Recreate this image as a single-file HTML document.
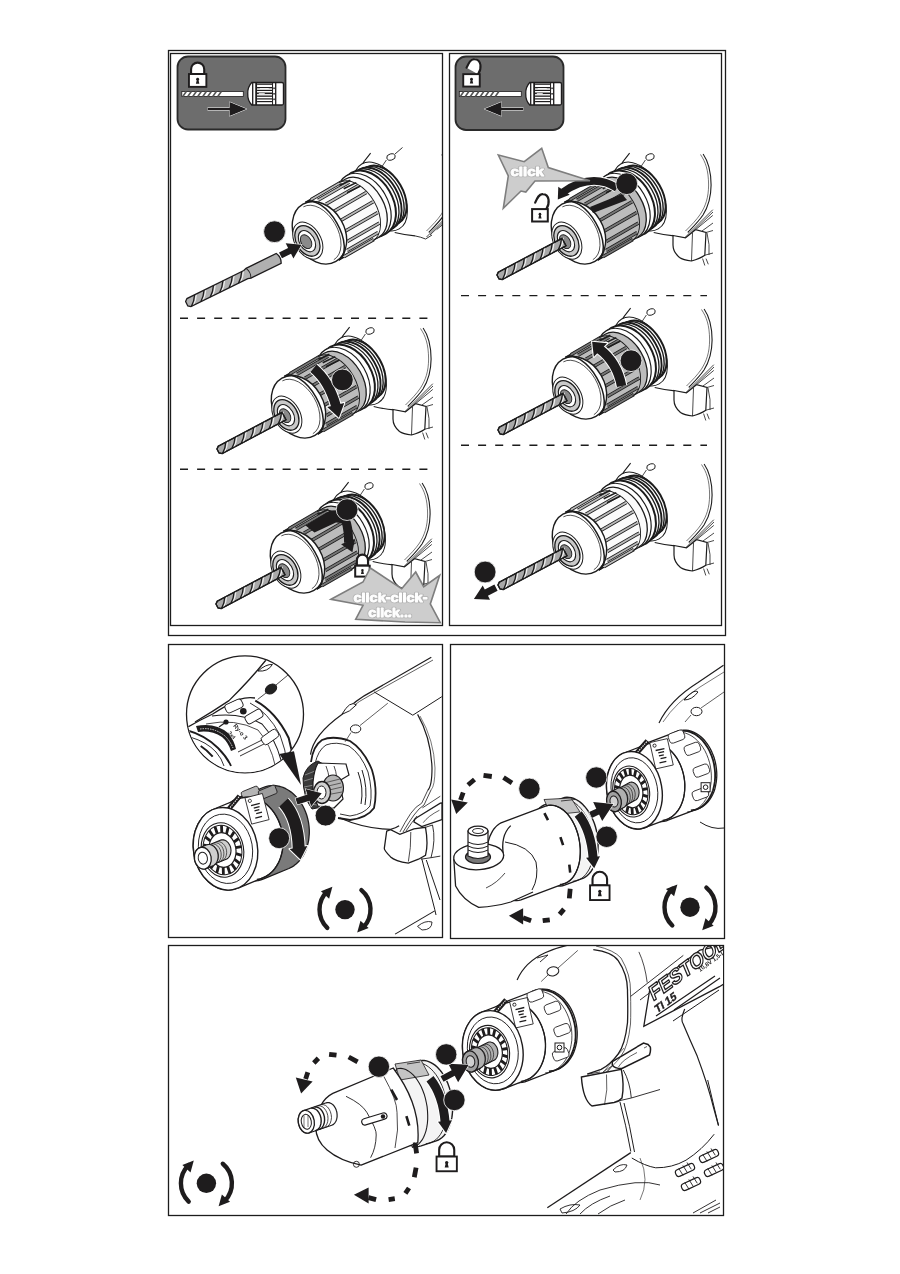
<!DOCTYPE html>
<html><head><meta charset="utf-8"><title>Manual page</title>
<style>
html,body{margin:0;padding:0;background:#fff;}
body{width:900px;height:1274px;overflow:hidden;font-family:"Liberation Sans",sans-serif;}
svg{position:absolute;left:0;top:0;display:block;}
text{opacity:.99}
svg{-webkit-font-smoothing:antialiased;will-change:transform;}
</style></head>
<body>
<svg width="900" height="1274" viewBox="0 0 900 1274">
<defs>
  <clipPath id="cTL1"><rect x="171" y="130" width="271" height="186"/></clipPath>
  <clipPath id="cTL2"><rect x="171" y="319" width="271" height="148"/></clipPath>
  <clipPath id="cTL3"><rect x="171" y="470" width="271" height="155"/></clipPath>
  <clipPath id="cTR1"><rect x="450" y="130" width="271" height="163"/></clipPath>
  <clipPath id="cTR2"><rect x="450" y="296" width="271" height="147"/></clipPath>
  <clipPath id="cTR3"><rect x="450" y="446" width="271" height="179"/></clipPath>
  <clipPath id="cML"><rect x="169" y="645" width="273" height="292"/></clipPath>
  <clipPath id="cMR"><rect x="451" y="645" width="273" height="293"/></clipPath>
  <clipPath id="cBT"><rect x="169" y="946" width="554" height="269"/></clipPath>
  <clipPath id="cMag"><circle cx="245" cy="714.3" r="58"/></clipPath>
  <g id="drillBody"><path d="M-20.4 -3.9 Q-27 4 -32.1 12.2" fill="none" stroke="#1c1c1c" stroke-width="1.1"/>
<ellipse cx="0" cy="0" rx="4.3" ry="3.1" transform="rotate(-15)" fill="none" stroke="#1c1c1c" stroke-width="0.9"/>
<path d="M-4.6 3 L-9 9.5" fill="none" stroke="#1c1c1c" stroke-width="0.8"/>
<path d="M53.1 -3 C58 4, 61 12, 61.1 28 C61 42, 58 50, 53 58 C49 64, 43 70, 37.8 75.5" fill="none" stroke="#1c1c1c" stroke-width="1.1"/>
<path d="M50.5 -2.5 C55.5 5, 58.5 13, 58.6 28 C58.5 41, 55.5 49, 50.5 57 C46.5 63, 41 68.5, 35.5 74" fill="none" stroke="#1c1c1c" stroke-width="0.6"/>
<path d="M3.7 75.5 Q14 78 24 78.9" fill="none" stroke="#1c1c1c" stroke-width="1.1"/>
<path d="M35.5 80 L62.8 52.7 M39 78 L63 55 M45.7 72.6 L62.8 58.4 M52 74 L63 66" fill="none" stroke="#1c1c1c" stroke-width="0.8"/>
</g><g id="blockG">
<path d="M23 78.5 L35.5 80.8 L45.7 72.6 L56 75.5 L54.8 98.2 Q50 101.5 41.5 104 Q33 103 29.5 100.5 Q23 95 23 88 Z" fill="#fff" stroke="#1c1c1c" stroke-width="1.2"/>
<path d="M42.5 76 L41.5 104" fill="none" stroke="#1c1c1c" stroke-width="0.8"/>
<path d="M56 75.5 L63 73.5 M57 76 Q60 88 59 98 M54.8 98.2 L63 96" fill="none" stroke="#1c1c1c" stroke-width="0.8"/>
<path d="M52.6 101.6 L54.8 108.5 M56 101.6 L58.3 107.3" fill="none" stroke="#1c1c1c" stroke-width="0.8"/></g>
<g id="chuckA"><g transform="translate(-77.6,79.3) rotate(-30)"><ellipse cx="78" cy="-1" rx="22.4" ry="37.5" fill="#fff" stroke="#1c1c1c" stroke-width="1"/>
<ellipse cx="81" cy="-1" rx="20" ry="32" fill="#fff" stroke="#1c1c1c" stroke-width="2.0"/>
<ellipse cx="77" cy="-1" rx="21" ry="33" fill="#fff" stroke="#1c1c1c" stroke-width="1.4"/>
<ellipse cx="73" cy="-1" rx="22" ry="33.8" fill="#fff" stroke="#1c1c1c" stroke-width="1.9"/>
<ellipse cx="69" cy="-1" rx="23" ry="34.4" fill="#fff" stroke="#1c1c1c" stroke-width="1.3"/>
<ellipse cx="64.5" cy="-1" rx="24" ry="35" fill="#fff" stroke="#1c1c1c" stroke-width="2.0"/>
<ellipse cx="59" cy="-1" rx="24" ry="35" fill="#fff" stroke="#1c1c1c" stroke-width="1.2"/>
<path d="M10 -33.5H56A22 33.5 0 0 1 56 33.5H10A18 33.5 0 0 0 10 -33.5Z" fill="#fbfbfb" stroke="#1c1c1c" stroke-width="1.3"/>
<path d="M16.1 -33H50.8M22 -29H58M26.8 -21.5H63.9M29.9 -11.5H67.7M31 0H69M29.9 11.5H67.7M26.8 21.5H63.9M22 29H58M16.1 33H50.8" stroke="#bbb" stroke-width="2"/>
<path d="M16.1 -34.3H50.8M16.1 -31.7H50.8M22 -30.3H58M22 -27.7H58M26.8 -22.8H63.9M26.8 -20.2H63.9M29.9 -12.8H67.7M29.9 -10.2H67.7M31 -1.3H69M31 1.3H69M29.9 10.2H67.7M29.9 12.8H67.7M26.8 20.2H63.9M26.8 22.8H63.9M22 27.7H58M22 30.3H58M16.1 31.7H50.8M16.1 34.3H50.8" stroke="#1c1c1c" stroke-width="0.9"/>
<path d="M49 -33.6A21 33.6 0 0 1 49 33.6" fill="none" stroke="#1c1c1c" stroke-width="0.9"/>
<path d="M48 -31 L60 -30 M50 -26 L64 -25 M51 -21 L66 -20" stroke="#1c1c1c" stroke-width="1.6"/>
<ellipse cx="7" cy="0" rx="25" ry="33" fill="#fff" stroke="#1c1c1c" stroke-width="1.4"/>
<path d="M10 -33.3A17 33.3 0 0 1 10 33.3" fill="none" stroke="#1c1c1c" stroke-width="1.5"/>
<path d="M6 -30.5A19 30.5 0 0 1 6 30.5" fill="none" stroke="#1c1c1c" stroke-width="0.7"/>
<ellipse cx="-7" cy="1" rx="13" ry="20" fill="#fff" stroke="#1c1c1c" stroke-width="1"/>
<ellipse cx="-7.5" cy="1" rx="11" ry="16.5" fill="#c9c9c9" stroke="#1c1c1c" stroke-width="1.3"/>
<ellipse cx="-8" cy="1" rx="7.5" ry="11.5" fill="#fff" stroke="#1c1c1c" stroke-width="1.1"/>
<ellipse cx="-9" cy="1" rx="5" ry="7.5" fill="#8a8a8a" stroke="#1c1c1c" stroke-width="0.9"/></g></g>
<g id="chuckS"><g transform="translate(-77.6,79.3) rotate(-30)"><ellipse cx="78" cy="-1" rx="22.4" ry="37.5" fill="#fff" stroke="#1c1c1c" stroke-width="1"/>
<ellipse cx="81" cy="-1" rx="20" ry="32" fill="#fff" stroke="#1c1c1c" stroke-width="2.0"/>
<ellipse cx="77" cy="-1" rx="21" ry="33" fill="#fff" stroke="#1c1c1c" stroke-width="1.4"/>
<ellipse cx="73" cy="-1" rx="22" ry="33.8" fill="#fff" stroke="#1c1c1c" stroke-width="1.9"/>
<ellipse cx="69" cy="-1" rx="23" ry="34.4" fill="#fff" stroke="#1c1c1c" stroke-width="1.3"/>
<ellipse cx="64.5" cy="-1" rx="24" ry="35" fill="#fff" stroke="#1c1c1c" stroke-width="2.0"/>
<ellipse cx="59" cy="-1" rx="24" ry="35" fill="#fff" stroke="#1c1c1c" stroke-width="1.2"/>
<path d="M10 -33.5H56A22 33.5 0 0 1 56 33.5H10A18 33.5 0 0 0 10 -33.5Z" fill="#bcbcbc" stroke="#1c1c1c" stroke-width="1.3"/>
<path d="M16.1 -33H50.8M22 -29H58M26.8 -21.5H63.9M29.9 -11.5H67.7M31 0H69M29.9 11.5H67.7M26.8 21.5H63.9M22 29H58M16.1 33H50.8" stroke="#777" stroke-width="2"/>
<path d="M16.1 -34.3H50.8M16.1 -31.7H50.8M22 -30.3H58M22 -27.7H58M26.8 -22.8H63.9M26.8 -20.2H63.9M29.9 -12.8H67.7M29.9 -10.2H67.7M31 -1.3H69M31 1.3H69M29.9 10.2H67.7M29.9 12.8H67.7M26.8 20.2H63.9M26.8 22.8H63.9M22 27.7H58M22 30.3H58M16.1 31.7H50.8M16.1 34.3H50.8" stroke="#1c1c1c" stroke-width="0.9"/>
<path d="M49 -33.6A21 33.6 0 0 1 49 33.6" fill="none" stroke="#1c1c1c" stroke-width="0.9"/>
<path d="M48 -31 L60 -30 M50 -26 L64 -25 M51 -21 L66 -20" stroke="#1c1c1c" stroke-width="1.6"/>
<ellipse cx="7" cy="0" rx="25" ry="33" fill="#fff" stroke="#1c1c1c" stroke-width="1.4"/>
<path d="M10 -33.3A17 33.3 0 0 1 10 33.3" fill="none" stroke="#1c1c1c" stroke-width="1.5"/>
<path d="M6 -30.5A19 30.5 0 0 1 6 30.5" fill="none" stroke="#1c1c1c" stroke-width="0.7"/>
<ellipse cx="-7" cy="1" rx="13" ry="20" fill="#fff" stroke="#1c1c1c" stroke-width="1"/>
<ellipse cx="-7.5" cy="1" rx="11" ry="16.5" fill="#c9c9c9" stroke="#1c1c1c" stroke-width="1.3"/>
<ellipse cx="-8" cy="1" rx="7.5" ry="11.5" fill="#fff" stroke="#1c1c1c" stroke-width="1.1"/>
<ellipse cx="-9" cy="1" rx="5" ry="7.5" fill="#8a8a8a" stroke="#1c1c1c" stroke-width="0.9"/></g></g>
<g id="bitIn"><g transform="translate(-152,120) rotate(-27.9)">
<path d="M0 -2.2 L2.5 -4.2 H74.7 V4.2 H2.5 L0 2.2 Z" fill="#a9a9a9" stroke="#1c1c1c" stroke-width="1.3"/>
<path d="M5.2 4.2Q10 0.9 13 -4.2M15.7 4.2Q20.5 0.9 23.5 -4.2M26.2 4.2Q31 0.9 34 -4.2M36.7 4.2Q41.5 0.9 44.5 -4.2M47.2 4.2Q52 0.9 55 -4.2M57.7 4.2Q62.5 0.9 65.5 -4.2M68.2 4.2Q73 0.9 76 -4.2" stroke="#eee" stroke-width="1.3" fill="none"/>
<path d="M3 4.2Q8 0.9 11 -4.2M13.5 4.2Q18.5 0.9 21.5 -4.2M24 4.2Q29 0.9 32 -4.2M34.5 4.2Q39.5 0.9 42.5 -4.2M45 4.2Q50 0.9 53 -4.2M55.5 4.2Q60.5 0.9 63.5 -4.2M66 4.2Q71 0.9 74 -4.2" stroke="#1c1c1c" stroke-width="1.3" fill="none"/>
<path d="M0 -2.2 L2.5 -4.2 H74.7 V4.2 H2.5 L0 2.2 Z" fill="none" stroke="#1c1c1c" stroke-width="1.3"/>
</g></g>
</defs>
<g fill="none" stroke="#1c1c1c" stroke-width="1.3">
  <rect x="168.5" y="50.5" width="557" height="585"/>
  <rect x="170.5" y="53.5" width="272" height="572"/>
  <rect x="449.5" y="53.5" width="272" height="572"/>
  <rect x="168.5" y="644.5" width="274" height="293"/>
  <rect x="450.5" y="644.5" width="274" height="294"/>
  <rect x="168.5" y="945.5" width="555" height="270"/>
</g>
<g stroke="#1c1c1c" stroke-width="1.4" stroke-dasharray="8 9.1">
  <line x1="180" y1="318.3" x2="430" y2="318.3"/>
  <line x1="180" y1="469.3" x2="430" y2="469.3"/>
  <line x1="461" y1="295.6" x2="707" y2="295.6"/>
  <line x1="461" y1="445.3" x2="707" y2="445.3"/>
</g>
<g clip-path="url(#cTL1)"><g transform="translate(391,157)"><use href="#drillBody"/><path d="M4 -3 L11.5 -9.5 M24 78.9 Q30 80 34.6 82 L41 78" fill="none" stroke="#1c1c1c" stroke-width="0.9"/><use href="#chuckA"/></g></g>
<g clip-path="url(#cTL2)"><g transform="translate(370,331)"><use href="#drillBody"/><use href="#blockG"/><use href="#chuckS"/><use href="#bitIn"/></g></g>
<g clip-path="url(#cTL3)"><g transform="translate(369,486)"><use href="#drillBody"/><use href="#blockG"/><use href="#chuckS"/><use href="#bitIn"/></g></g>
<g clip-path="url(#cTR1)"><g transform="translate(650,157)"><use href="#drillBody"/><use href="#blockG"/><use href="#chuckS"/><use href="#bitIn"/></g></g>
<g clip-path="url(#cTR2)"><g transform="translate(651,312)"><use href="#drillBody"/><use href="#blockG"/><use href="#chuckS"/><use href="#bitIn"/></g></g>
<g clip-path="url(#cTR3)"><g transform="translate(651,467)"><use href="#drillBody"/><use href="#blockG"/><use href="#chuckA"/><use href="#bitIn"/></g></g>
<rect x="177.5" y="56.5" width="108" height="73" rx="10.5" fill="#6d6d6d" stroke="#2a2a2a" stroke-width="1.8"/>
<rect x="455.5" y="56.5" width="108" height="73.5" rx="10.5" fill="#6d6d6d" stroke="#2a2a2a" stroke-width="1.8"/>
<path d="M191.09 74.1V69.16A6.56 6.56 0 0 1 204.21 69.16V74.1Z" fill="#fff" stroke="#1e1c1d" stroke-width="2.09"/>
<rect x="188.95" y="74.05" width="17.4" height="12.8" fill="#fff" stroke="#1e1c1d" stroke-width="1.9"/>
<circle cx="197.65" cy="79.27" r="1.45" fill="#1e1c1d"/><path d="M196.97 79.27L195.91 83.68H199.39L198.33 79.27Z" fill="#1e1c1d"/>
<rect x="181.8" y="91.5" width="61.5" height="5" fill="#fff" stroke="#1e1c1d" stroke-width="0.8"/>
<path d="M182.8 96.5L186.3 91.5M187.8 96.5L191.3 91.5M192.8 96.5L196.3 91.5M197.8 96.5L201.3 91.5M202.8 96.5L206.3 91.5M207.8 96.5L211.3 91.5M212.8 96.5L216.3 91.5M217.8 96.5L221.3 91.5" stroke="#555" stroke-width="1.6"/>
<path d="M251.75 82.5H281.95Q283.45 82.5 283.45 84V103.5Q283.45 105 281.95 105H251.75Q247.45 100.5 247.75 93.75Q247.45 87 251.75 82.5Z" fill="#fff" stroke="#1e1c1d" stroke-width="1.3"/>
<rect x="252.05" y="82.5" width="1.3" height="22.5" fill="#1e1c1d"/>
<rect x="255.25" y="82.5" width="1.8" height="22.5" fill="#1e1c1d"/>
<rect x="272.05" y="82.5" width="1" height="22.5" fill="#1e1c1d"/>
<rect x="275.05" y="82.5" width="1.3" height="22.5" fill="#1e1c1d"/>
<rect x="257.05" y="83.5" width="15" height="1.3" fill="#1e1c1d"/><rect x="257.05" y="87" width="15" height="1.3" fill="#1e1c1d"/><rect x="257.05" y="89.8" width="15" height="1.2" fill="#1e1c1d"/><rect x="257.05" y="92.5" width="15" height="1.6" fill="#1e1c1d"/><rect x="257.05" y="95.5" width="15" height="1.3" fill="#1e1c1d"/><rect x="257.05" y="98.3" width="15" height="1.2" fill="#1e1c1d"/><rect x="257.05" y="101" width="15" height="1.2" fill="#1e1c1d"/>
<path d="M258.75 93.5H264.75 M259.75 88.5H268.75" stroke="#fff" stroke-width="0.8"/>
<rect x="273.35" y="87.5" width="1.4" height="1.6" fill="#1e1c1d"/>
<rect x="273.35" y="93" width="1.4" height="1.6" fill="#1e1c1d"/>
<rect x="273.35" y="98.5" width="1.4" height="1.6" fill="#1e1c1d"/>
<path d="M207.5 108H229.5V102L246.5 109L229.5 116V110H207.5Z" fill="#1e1c1d" stroke="#fff" stroke-width="1" paint-order="stroke"/>
<path d="M478.12 74.2C481.8 68.91 481.8 59.62 474.44 59.33C470.58 58.9 468.74 62.9 466.53 67.77" fill="#fff" stroke="#1e1c1d" stroke-width="2.09" stroke-linecap="round"/>
<rect x="463.25" y="74.15" width="16.5" height="12.4" fill="#fff" stroke="#1e1c1d" stroke-width="1.9"/>
<circle cx="471.5" cy="79.21" r="1.38" fill="#1e1c1d"/><path d="M470.86 79.21L469.84 83.5H473.16L472.14 79.21Z" fill="#1e1c1d"/>
<rect x="459.3" y="91.5" width="62" height="5" fill="#fff" stroke="#1e1c1d" stroke-width="0.8"/>
<path d="M460.3 96.5L463.8 91.5M465.3 96.5L468.8 91.5M470.3 96.5L473.8 91.5M475.3 96.5L478.8 91.5M480.3 96.5L483.8 91.5M485.3 96.5L488.8 91.5M490.3 96.5L493.8 91.5M495.3 96.5L498.8 91.5" stroke="#555" stroke-width="1.6"/>
<path d="M529.75 82.5H559.95Q561.45 82.5 561.45 84V103.5Q561.45 105 559.95 105H529.75Q525.45 100.5 525.75 93.75Q525.45 87 529.75 82.5Z" fill="#fff" stroke="#1e1c1d" stroke-width="1.3"/>
<rect x="530.05" y="82.5" width="1.3" height="22.5" fill="#1e1c1d"/>
<rect x="533.25" y="82.5" width="1.8" height="22.5" fill="#1e1c1d"/>
<rect x="550.05" y="82.5" width="1" height="22.5" fill="#1e1c1d"/>
<rect x="553.05" y="82.5" width="1.3" height="22.5" fill="#1e1c1d"/>
<rect x="535.05" y="83.5" width="15" height="1.3" fill="#1e1c1d"/><rect x="535.05" y="87" width="15" height="1.3" fill="#1e1c1d"/><rect x="535.05" y="89.8" width="15" height="1.2" fill="#1e1c1d"/><rect x="535.05" y="92.5" width="15" height="1.6" fill="#1e1c1d"/><rect x="535.05" y="95.5" width="15" height="1.3" fill="#1e1c1d"/><rect x="535.05" y="98.3" width="15" height="1.2" fill="#1e1c1d"/><rect x="535.05" y="101" width="15" height="1.2" fill="#1e1c1d"/>
<path d="M536.75 93.5H542.75 M537.75 88.5H546.75" stroke="#fff" stroke-width="0.8"/>
<rect x="551.35" y="87.5" width="1.4" height="1.6" fill="#1e1c1d"/>
<rect x="551.35" y="93" width="1.4" height="1.6" fill="#1e1c1d"/>
<rect x="551.35" y="98.5" width="1.4" height="1.6" fill="#1e1c1d"/>
<path d="M523.5 108H501.5V102L484.5 109L501.5 116V110H523.5Z" fill="#1e1c1d" stroke="#fff" stroke-width="1" paint-order="stroke"/>
<g transform="translate(186.7,303.7) rotate(-26.22)">
<path d="M0 -2.5L2.5 -4.5H65.87L68.87 -5.5H102.56Q105.56 0 102.56 5.5H68.87L65.87 4.5H2.5L0 2.5Z" fill="#b0b0b0" stroke="none"/>
<path d="M5.2 4.5Q10 0.9 13 -4.5M15.7 4.5Q20.5 0.9 23.5 -4.5M26.2 4.5Q31 0.9 34 -4.5M36.7 4.5Q41.5 0.9 44.5 -4.5M47.2 4.5Q52 0.9 55 -4.5M57.7 4.5Q62.5 0.9 65.5 -4.5" fill="none" stroke="#eee" stroke-width="1.3"/>
<path d="M3 4.5Q8 0.9 11 -4.5M13.5 4.5Q18.5 0.9 21.5 -4.5M24 4.5Q29 0.9 32 -4.5M34.5 4.5Q39.5 0.9 42.5 -4.5M45 4.5Q50 0.9 53 -4.5M55.5 4.5Q60.5 0.9 63.5 -4.5" fill="none" stroke="#1e1c1d" stroke-width="1.3"/>
<path d="M0 -2.5L2.5 -4.5H65.87L68.87 -5.5H102.56Q105.56 0 102.56 5.5H68.87L65.87 4.5H2.5L0 2.5Z" fill="none" stroke="#1e1c1d" stroke-width="1.3"/>
<path d="M68.87 -5.5Q71.87 0 68.87 5.5" fill="none" stroke="#1e1c1d" stroke-width="0.9"/>
</g>
<path transform="translate(280.5,255.4) rotate(-26.89)" d="M0 -3.25H10.16V-8.5L23.66 0L10.16 8.5V3.25H0Z" fill="#1e1c1d" stroke="#fff" stroke-width="1.2" paint-order="stroke"/>
<path d="M313.5 368.3Q329 381 336.11 406.46" fill="none" stroke="#fff" stroke-width="11.8"/>
<path d="M338.9 417.7L327.26 407.11L344.24 402.89Z" fill="#fff" stroke="#fff" stroke-width="2.2" stroke-linejoin="round"/>
<path d="M313.5 368.3Q329 381 336.11 406.46" fill="none" stroke="#1e1c1d" stroke-width="9.8"/>
<path d="M338.9 417.7L327.26 407.11L344.24 402.89Z" fill="#1e1c1d"/>
<path d="M305.5 525.5 L330 510.5 L344 510 L342 523 L336 522.5 L314.5 532.5 Z" fill="#1e1c1d"/>
<path d="M341 512Q349 522 348.57 542.89" fill="none" stroke="#1e1c1d" stroke-width="9"/>
<path d="M352.4 552.2L341.06 544.35L354.94 538.65Z" fill="#1e1c1d"/>
<path d="M356.84 565.7V560.31A5.61 5.61 0 0 1 368.06 560.31V565.7Z" fill="#fff" stroke="#1e1c1d" stroke-width="2.2"/>
<rect x="355.2" y="565.7" width="14.5" height="10.9" fill="#fff" stroke="#1e1c1d" stroke-width="2"/>
<circle cx="362.45" cy="570.12" r="1.24" fill="#1e1c1d"/><path d="M361.87 570.12L360.96 573.99H363.94L363.03 570.12Z" fill="#1e1c1d"/>
<path d="M331 599.3 L363 582 L370.3 568 L401.7 588.7 L415.7 572 L423.7 586.7 L439.7 575.3 L430.3 604 L440.3 622.7 L405 622 L355.7 619.3 L363 605.3Z" fill="#cdcdcd" stroke="#7e7e7e" stroke-width="1.6" stroke-linejoin="miter"/>
<text x="353.5" y="601.5" font-family="Liberation Sans" font-weight="bold" font-size="13" fill="#b4b4b4" stroke="#b4b4b4" stroke-width="2.6" stroke-linejoin="round" textLength="74" lengthAdjust="spacingAndGlyphs">click-click-</text><text x="353.5" y="601.5" font-family="Liberation Sans" font-weight="bold" font-size="13" fill="#fff" stroke="#fff" stroke-width="0.9" stroke-linejoin="round" textLength="74" lengthAdjust="spacingAndGlyphs">click-click-</text>
<text x="368.3" y="617" font-family="Liberation Sans" font-weight="bold" font-size="13" fill="#b4b4b4" stroke="#b4b4b4" stroke-width="2.6" stroke-linejoin="round" textLength="43.5" lengthAdjust="spacingAndGlyphs">click...</text><text x="368.3" y="617" font-family="Liberation Sans" font-weight="bold" font-size="13" fill="#fff" stroke="#fff" stroke-width="0.9" stroke-linejoin="round" textLength="43.5" lengthAdjust="spacingAndGlyphs">click...</text>
<path d="M590 207 L622 194 L627 200 L593 213 Z" fill="#1e1c1d"/>
<path d="M617 188Q592 172 563.13 191.97" fill="none" stroke="#fff" stroke-width="9.5"/>
<path d="M557.8 199.5L558.29 186.7L569.71 194.8Z" fill="#fff" stroke="#fff" stroke-width="2.2" stroke-linejoin="round"/>
<path d="M617 188Q592 172 563.13 191.97" fill="none" stroke="#1e1c1d" stroke-width="7.5"/>
<path d="M557.8 199.5L558.29 186.7L569.71 194.8Z" fill="#1e1c1d"/>
<path d="M498.3 155 L524.2 161.7 L541.7 148.3 L548.3 167.5 L590 180.8 L535 181 L525.8 192 L521 191 L503.3 208.3 L508.3 175.8Z" fill="#cdcdcd" stroke="#7e7e7e" stroke-width="1.6" stroke-linejoin="miter"/>
<text x="510.5" y="176.3" font-family="Liberation Sans" font-weight="bold" font-size="13" fill="#b4b4b4" stroke="#b4b4b4" stroke-width="2.6" stroke-linejoin="round" textLength="33.5" lengthAdjust="spacingAndGlyphs">click</text><text x="510.5" y="176.3" font-family="Liberation Sans" font-weight="bold" font-size="13" fill="#fff" stroke="#fff" stroke-width="0.9" stroke-linejoin="round" textLength="33.5" lengthAdjust="spacingAndGlyphs">click</text>
<path d="M546.32 209.1C549.86 203.78 549.86 194.42 542.78 194.13C539.07 193.7 537.3 197.73 535.17 202.63" fill="none" stroke="#1e1c1d" stroke-width="2.2" stroke-linecap="round"/>
<rect x="532.1" y="209.1" width="15.7" height="12.4" fill="#fff" stroke="#1e1c1d" stroke-width="2"/>
<circle cx="539.95" cy="214.15" r="1.33" fill="#1e1c1d"/><path d="M539.33 214.15L538.36 218.47H541.54L540.57 214.15Z" fill="#1e1c1d"/>
<path d="M621.6 386.1Q617 362 599.43 348.95" fill="none" stroke="#fff" stroke-width="11.5"/>
<path d="M592.1 341.8L607.14 343.2L593.86 356.8Z" fill="#fff" stroke="#fff" stroke-width="2.2" stroke-linejoin="round"/>
<path d="M621.6 386.1Q617 362 599.43 348.95" fill="none" stroke="#1e1c1d" stroke-width="9.5"/>
<path d="M592.1 341.8L607.14 343.2L593.86 356.8Z" fill="#1e1c1d"/>
<path transform="translate(496,587.7) rotate(152.92)" d="M0 -3.5H10.82V-8.0L24.82 0L10.82 8.0V3.5H0Z" fill="#1e1c1d" stroke="#fff" stroke-width="1.2" paint-order="stroke"/>
<circle cx="274.5" cy="231.7" r="10.9" fill="#1e1c1d" stroke="#fff" stroke-width="0.8"/>
<circle cx="342.4" cy="379.9" r="10.9" fill="#1e1c1d" stroke="#fff" stroke-width="0.8"/>
<circle cx="347.1" cy="509.6" r="10.9" fill="#1e1c1d" stroke="#fff" stroke-width="0.8"/>
<circle cx="626.7" cy="183.7" r="10.9" fill="#1e1c1d" stroke="#fff" stroke-width="0.8"/>
<circle cx="631" cy="360.7" r="10.9" fill="#1e1c1d" stroke="#fff" stroke-width="0.8"/>
<circle cx="485.1" cy="572" r="10.9" fill="#1e1c1d" stroke="#fff" stroke-width="0.8"/>
<g clip-path="url(#cML)">
<path d="M310.5 754.7 Q313 735 341.9 714.4 Q355 700 372.5 691.1 L431.3 657.2" fill="none" stroke="#1e1c1d" stroke-width="1.2"/>
<path d="M345 712 Q360 700 374 693 L433 660" fill="none" stroke="#1e1c1d" stroke-width="0.7"/>
<path d="M341.9 714.4 Q350 700 356.4 704.8 Q350 712 341.9 714.4Z" fill="#fff" stroke="#1e1c1d" stroke-width="1"/>
<path d="M374.1 691.9 L412.8 715.2 L441.8 696.7" fill="none" stroke="#1e1c1d" stroke-width="1"/>
<path d="M417.6 714.4 Q431 738 432 768 Q432 786 427.9 790" fill="none" stroke="#1e1c1d" stroke-width="1.2"/>
<path d="M420 716 Q434 740 435 768 Q435 786 431 790" fill="none" stroke="#1e1c1d" stroke-width="0.6"/>
<ellipse cx="355.6" cy="728.9" rx="5.2" ry="4" fill="none" stroke="#1e1c1d" stroke-width="1"/>
<path d="M360 725.5 L387.8 703.2 M351 732.5 L345.1 741.8" fill="none" stroke="#1e1c1d" stroke-width="0.7"/>
<path d="M311 762 Q313 746 322 740 Q333 735 350 741 Q364 750 372 770 Q378 790 374 808 Q367 818 350 820 L338 818" fill="none" stroke="#1e1c1d" stroke-width="1.8"/>
<path d="M315 764 Q318 750 326 745 Q336 741 349 746 Q361 754 368 772 Q373 791 370 806 Q364 814 350 816 L340 814" fill="none" stroke="#1e1c1d" stroke-width="0.9"/>
<path d="M340 818 Q365 829 390.6 829.3 Q396 828 399.1 825.8" fill="none" stroke="#1e1c1d" stroke-width="1.3"/>
<path d="M303 778 Q306 765 318 761 L323 764 Q312 772 313 790 Q314 800 322 807 L312 809 Q303 797 303 778Z" fill="#3a3a3a" stroke="#1e1c1d" stroke-width="1"/>
<path d="M305 775 L315 771 M304 781 L314 778 M304 787 L314 785 M305 793 L315 792 M306 799 L316 799 M309 804 L318 805" stroke="#999" stroke-width="0.8"/>
<path d="M318 763 L346 764 L349 775 L339 781 L343 799 L334 808 L318 806 Q312 795 313 782 Q314 770 318 763Z" fill="#fff" stroke="#1e1c1d" stroke-width="1.2"/>
<path d="M326 766 Q331 778 330 800 M334 766 Q338 776 337 792" fill="none" stroke="#1e1c1d" stroke-width="0.8"/>
<ellipse cx="333" cy="788" rx="10.5" ry="13" fill="#b5b5b5" stroke="#1e1c1d" stroke-width="1.1"/>
<path d="M324 783 L340 779 M324 787 L341 783 M325 791 L342 787 M326 795 L342 792" stroke="#1e1c1d" stroke-width="0.6"/>
<ellipse cx="322" cy="792.5" rx="8.5" ry="11" fill="#d0d0d0" stroke="#1e1c1d" stroke-width="1.4"/>
<ellipse cx="321.5" cy="792.5" rx="4.5" ry="6.5" fill="#fff" stroke="#1e1c1d" stroke-width="1"/>
<path d="M358 772 Q364 788 361 804 M362 770 Q368 788 365 805" fill="none" stroke="#1e1c1d" stroke-width="1"/>
<path d="M399.9 832 Q405 822 410.8 813.3 Q416 806 421.7 803.2 L427.9 790 M403 832 Q409 822 414 815 Q419 808 424 805 L431 790 M406 831 Q412 822 417 816" fill="none" stroke="#1e1c1d" stroke-width="0.8"/>
<path d="M422.4 807.9 L440.3 796.2" fill="none" stroke="#1e1c1d" stroke-width="0.8"/>
<path d="M413.9 821.9 Q414 819 417 817.5 L440.3 803.2 L442 803 L442 819 L441.9 819.5 L421.7 826.5 Z" fill="#fff" stroke="#1e1c1d" stroke-width="1.3"/>
<path d="M423.2 822.7 Q428 816 439.5 810.2" fill="none" stroke="#1e1c1d" stroke-width="0.7"/>
<path d="M386.7 831.2 L390.6 829.7 L399.9 834.3 L413.9 828.9 L425.5 827.3 Q428.5 844 425.5 855.3 L418.5 859.2 L408.4 863.1 Q395 861 390.6 856.9 Q384 850 384.3 848.3 Z" fill="#fff" stroke="#1e1c1d" stroke-width="1.3"/>
<path d="M410.8 832 Q411 848 408.4 861.5" fill="none" stroke="#1e1c1d" stroke-width="0.8"/>
<path d="M425.5 827.3 L432.5 825 Q436 840 431 857.7 L420.9 859.2 M431 857.7 L440.3 856.1" fill="none" stroke="#1e1c1d" stroke-width="0.9"/>
<path d="M421.7 858.4 L434.7 909.2 L436 915 M426.3 860 L440 900" fill="none" stroke="#1e1c1d" stroke-width="1"/>
<path d="M395.1 934.1 L434.7 910.9" fill="none" stroke="#1e1c1d" stroke-width="1.1"/>
<path d="M417.5 926.4 Q425 920 432 922 Q432 930 422 930Z" fill="none" stroke="#1e1c1d" stroke-width="0.9"/>
<circle cx="245" cy="714.3" r="58.5" fill="#fff" stroke="#1e1c1d" stroke-width="1.3"/>
<g clip-path="url(#cMag)">
<path d="M266 660 Q250 680 229 700.6 Q212 712 195 722" fill="none" stroke="#1e1c1d" stroke-width="1.3"/>
<path d="M258 671 Q266 664 272.4 664.5 Q268 672 258 671Z" fill="none" stroke="#1e1c1d" stroke-width="1"/>
<ellipse cx="271" cy="689" rx="6.2" ry="4.5" transform="rotate(-35 271 689)" fill="#222" stroke="#1e1c1d"/>
<path d="M288 675 L276 685 M266 693 L253 703" fill="none" stroke="#1e1c1d" stroke-width="0.8"/>
<path d="M186 728 Q200 720 212.7 714 Q228 704 239.3 699.3 Q247 697 255 698 Q272 706 283 725 Q290 740 292 760 L300 780 L186 780Z" fill="#fff" stroke="none"/>
<path d="M186 728 Q200 720 212.7 714 Q228 704 239.3 699.3 Q247 697 255 698" fill="none" stroke="#1e1c1d" stroke-width="1.3"/>
<path d="M255.3 700.7 Q276 712 288.7 738 Q292 750 293 760" fill="none" stroke="#1e1c1d" stroke-width="2"/>
<path d="M250 703 Q268 712 280 735 Q286 750 287 765" fill="none" stroke="#1e1c1d" stroke-width="0.9"/>
<path d="M212 716 Q240 712 262 724 Q275 738 281 760" fill="none" stroke="#1e1c1d" stroke-width="1.1"/>
<path d="M206 724 Q235 718 258 730 Q271 745 275 765" fill="none" stroke="#1e1c1d" stroke-width="0.8"/>
<rect x="225" y="701.5" width="18" height="9" rx="3" transform="rotate(-25 234 706)" fill="#fff" stroke="#1e1c1d" stroke-width="0.9"/>
<rect x="245" y="712.0" width="18" height="9" rx="3" transform="rotate(-30 254 716.5)" fill="#fff" stroke="#1e1c1d" stroke-width="0.9"/>
<rect x="261" y="732.5" width="18" height="9" rx="3" transform="rotate(-35 270 737)" fill="#fff" stroke="#1e1c1d" stroke-width="0.9"/>
<circle cx="243.3" cy="711.3" r="3.3" fill="#1e1c1d"/><circle cx="226" cy="722" r="2.6" fill="#1e1c1d"/><path d="M226 722 L219 727" stroke="#1e1c1d" stroke-width="1.2"/>
<path d="M196 726 Q215 722 228 733 Q234 740 236 749 L231 751 Q228 742 222 737 Q211 730 198 732Z" fill="#1e1c1d"/>
<path d="M200 729 Q214 727 225 736 Q230 741 233 748" fill="none" stroke="#fff" stroke-width="0.8" stroke-dasharray="1.5 1"/>
<text transform="translate(233,726) rotate(50)" font-family="Liberation Sans" font-size="6" font-weight="bold" fill="#1e1c1d">Ry-o 3</text>
<text transform="translate(228,733) rotate(50)" font-family="Liberation Sans" font-size="5" font-weight="bold" fill="#1e1c1d">3x4</text>
<path d="M238 752 L262 740 M240 756 L264 744" fill="none" stroke="#1e1c1d" stroke-width="0.9"/>
<path d="M186 730 Q205 735 218 748 Q227 757 231 766" fill="none" stroke="#1e1c1d" stroke-width="1.8"/>
<path d="M190 737 Q207 742 216 752 Q222 759 224 766" fill="none" stroke="#1e1c1d" stroke-width="0.9"/>
<path d="M200.7 746 Q207 750 212.7 756.7" fill="none" stroke="#1e1c1d" stroke-width="2"/>
</g>
<path d="M279.3 754 L294 751.3 L301 785 Z" fill="#1e1c1d"/>
<path d="M217.5 833 L217.7 829.4 L218.2 825.8 L218.9 822.3 L219.9 818.9 L221.1 815.7 L222.6 812.7 L224.2 809.8 L226.1 807.2 L228.1 804.8 L230.3 802.7 L232.7 800.8 L235.2 799.2 L237.8 797.9 L263.1 787.5 L265.8 786.6 L268.6 785.9 L271.4 785.6 L274.3 785.5 L277.2 785.9 L280.1 786.5 L283 787.4 L285.8 788.7 L288.5 790.2 L291.2 792.1 L293.7 794.2 L296.1 796.6 L298.3 799.2 L300.4 802 L302.3 805 L304 808.2 L305.4 811.6 L306.7 815 L307.7 818.6 L308.5 822.3 L309 826 L309.3 829.7 L309.3 833.4 L309 837 L308.6 840.6 L307.8 844.1 L306.9 847.5 L305.6 850.7 L304.2 853.7 L302.6 856.6 L300.7 859.2 L298.7 861.6 L296.4 863.7 L294.1 865.6 L291.6 867.2 L288.9 868.5 L263.7 878.9 L261 879.8 L258.2 880.5 L255.3 880.8 L252.4 880.9 L249.5 880.5 L246.6 879.9 L243.8 879 L240.9 877.7 L238.2 876.2 L235.6 874.3 L233.1 872.2 L230.7 869.8 L228.4 867.2 L226.3 864.4 L224.5 861.4 L222.8 858.2 L221.3 854.8 L220.1 851.4 L219.1 847.8 L218.3 844.1 L217.8 840.4 L217.5 836.7Z" fill="#7a7a7a" stroke="#1e1c1d" stroke-width="1.3" stroke-linejoin="round"/>
<rect x="241.4" y="788.7" width="18" height="9" rx="2" transform="rotate(-22.4 250.4 792.7)" fill="#b5b5b5" stroke="#1e1c1d" stroke-width="0.8"/>
<rect x="258.5" y="787.7" width="18" height="9" rx="2" transform="rotate(-22.4 267.5 791.7)" fill="#9d9d9d" stroke="#1e1c1d" stroke-width="0.8"/>
<path d="M193.2 843.6 L193.4 840 L193.9 836.6 L194.6 833.2 L195.6 829.9 L196.7 826.8 L198.1 823.8 L199.7 821.1 L201.5 818.5 L203.5 816.2 L205.7 814.1 L207.9 812.3 L210.4 810.8 L212.9 809.5 L238.2 799.1 L240.8 798.2 L243.5 797.5 L246.3 797.2 L249.1 797.2 L251.9 797.5 L254.8 798.1 L257.5 799 L260.3 800.2 L262.9 801.7 L265.5 803.5 L267.9 805.6 L270.3 807.9 L272.4 810.4 L274.4 813.1 L276.3 816.1 L277.9 819.2 L279.3 822.5 L280.5 825.8 L281.5 829.3 L282.3 832.8 L282.8 836.4 L283 840 L283.1 843.6 L282.8 847.2 L282.4 850.6 L281.6 854 L280.7 857.3 L279.5 860.4 L278.1 863.4 L276.5 866.1 L274.7 868.7 L272.8 871 L270.6 873.1 L268.3 874.9 L265.9 876.4 L263.3 877.7 L238.1 888.1 L235.4 889 L232.7 889.7 L229.9 890 L227.1 890 L224.3 889.7 L221.5 889.1 L218.7 888.2 L216 887 L213.3 885.5 L210.8 883.7 L208.3 881.6 L206 879.3 L203.8 876.8 L201.8 874 L200 871.1 L198.3 868 L196.9 864.8 L195.7 861.4 L194.7 857.9 L194 854.4 L193.5 850.8 L193.2 847.2Z" fill="#fff" stroke="#1e1c1d" stroke-width="1.3" stroke-linejoin="round"/>
<path d="M242.4 797.7 L245.8 797.2 L249.3 797.2 L252.7 797.6 L256.2 798.5 L259.5 799.9 L262.8 801.7 L266 803.9 L268.9 806.5 L271.7 809.5 L274.2 812.8 L276.4 816.4 L278.4 820.2 L280 824.3 L281.3 828.5 L282.3 832.8 L282.9 837.2 L283.1 841.7 L282.9 846 L282.4 850.3 L281.5 854.5 L280.3 858.4 L278.7 862.2 L276.8 865.6 L274.7 868.8 L272.2 871.6 L269.5 874 L266.6 876 L263.5 877.6 L260.2 878.8 L256.9 879.4" fill="none" stroke="#1e1c1d" stroke-width="1.1"/>
<rect x="247.9" y="795.3" width="18" height="27" transform="rotate(-14.4 256.9 808.3)" fill="#fff" stroke="#1e1c1d" stroke-width="0.8"/>
<g transform="translate(256.9,808.3) rotate(-14.4)" stroke="#1e1c1d"><circle cx="-5" cy="-9" r="1.6" fill="none" stroke-width="0.8"/><path d="M-5 -4 H4 M-3 -1 H3 M-3 2 H2 M-2 5 H4 M-4 9 H3" stroke-width="1.3"/></g>
<g transform="translate(232.6,804.5) rotate(39.6)"><rect x="-2.5" y="-11" width="5" height="22" fill="#1e1c1d"/><path d="M0 -10 V10" stroke="#fff" stroke-width="1" stroke-dasharray="1.5 1"/></g>
<ellipse cx="225.5" cy="848.8" rx="32" ry="41.5" transform="rotate(-10 225.5 848.8)" fill="#fff" stroke="#1e1c1d" stroke-width="1.4"/>
<ellipse cx="225.5" cy="848.8" rx="26.9" ry="34.9" transform="rotate(-10 225.5 848.8)" fill="none" stroke="#1e1c1d" stroke-width="0.9"/>
<ellipse cx="222.5" cy="850" rx="21.1" ry="27.4" transform="rotate(-10 222.5 850)" fill="#fff" stroke="#1e1c1d" stroke-width="1.1"/>
<path d="M235.7 847.7L241.4 846.7M235.9 853.7L241.7 855.3M234.6 859.3L239.7 863.3M231.7 863.7L235.7 869.6M227.7 866.5L230 873.6M223.2 867.4L223.4 874.8M218.5 866.1L216.8 873M214.3 862.9L210.8 868.4M211.1 858.1L206.2 861.6M209.2 852.4L203.6 853.4M209 846.4L203.2 844.8M210.4 840.8L205.2 836.8M213.2 836.3L209.3 830.5M217.2 833.5L214.9 826.5M221.8 832.7L221.5 825.3M226.5 834L228.2 827.1M230.7 837.2L234.2 831.7M233.9 842L238.8 838.5" stroke="#1e1c1d" stroke-width="2.8"/>
<ellipse cx="222.5" cy="850" rx="13.4" ry="17.4" transform="rotate(-10 222.5 850)" fill="#fff" stroke="#1e1c1d" stroke-width="1.2"/>
<ellipse cx="222.5" cy="850" rx="19.2" ry="24.9" transform="rotate(-10 222.5 850)" fill="none" stroke="#1e1c1d" stroke-width="1"/>
<path d="M195 856.9 L195.1 856.1 L195.2 855.2 L195.4 854.4 L195.6 853.6 L195.9 852.9 L196.2 852.2 L196.6 851.5 L197 850.9 L197.5 850.3 L198 849.8 L198.6 849.4 L199.2 849 L199.8 848.7 L220.2 840.3 L220.8 840.1 L221.5 839.9 L222.2 839.9 L222.8 839.8 L223.5 839.9 L224.2 840.1 L224.9 840.3 L225.5 840.6 L226.2 840.9 L226.8 841.4 L227.3 841.9 L227.9 842.4 L228.4 843 L228.9 843.7 L229.3 844.4 L229.7 845.1 L230.1 845.9 L230.4 846.7 L230.6 847.5 L230.8 848.4 L230.9 849.3 L231 850.1 L231 851 L230.9 851.8 L230.8 852.7 L230.6 853.5 L230.4 854.3 L230.1 855 L229.8 855.7 L229.4 856.4 L229 857 L228.5 857.6 L228 858.1 L227.4 858.5 L226.9 858.9 L226.2 859.2 L205.8 867.6 L205.2 867.8 L204.5 868 L203.8 868 L203.2 868 L202.5 868 L201.8 867.8 L201.2 867.6 L200.5 867.3 L199.8 867 L199.2 866.5 L198.7 866 L198.1 865.5 L197.6 864.9 L197.1 864.2 L196.7 863.5 L196.3 862.8 L195.9 862 L195.6 861.2 L195.4 860.3 L195.2 859.5 L195.1 858.6 L195 857.8Z" fill="#cfcfcf" stroke="#1e1c1d" stroke-width="1.1"/>
<path d="M209 845.1 L211 845.1 L213 845.7 L214.9 847 L216.4 848.8 L217.6 851.1 L218.3 853.6 L218.5 856.1 L218.1 858.6 L217.3 860.9 L216 862.7 L214.4 864 L212.5 864.7M211.7 844 L213.7 843.9 L215.7 844.6 L217.6 845.9 L219.1 847.7 L220.3 849.9 L221 852.4 L221.2 855 L220.9 857.5 L220 859.8 L218.7 861.6 L217.1 862.9 L215.2 863.6M214.5 842.8 L216.5 842.8 L218.5 843.5 L220.3 844.8 L221.9 846.6 L223 848.8 L223.7 851.3 L223.9 853.9 L223.6 856.4 L222.8 858.6 L221.5 860.5 L219.8 861.8 L217.9 862.4M217.2 841.7 L219.2 841.7 L221.2 842.4 L223 843.6 L224.6 845.5 L225.8 847.7 L226.5 850.2 L226.7 852.8 L226.3 855.3 L225.5 857.5 L224.2 859.3 L222.5 860.6 L220.6 861.3" fill="none" stroke="#1e1c1d" stroke-width="0.7"/>
<path d="M194.2 856.8 L194.3 855.9 L194.4 854.9 L194.6 854 L194.9 853.2 L195.2 852.4 L195.6 851.6 L196 850.8 L196.4 850.2 L197 849.5 L197.5 849 L198.1 848.5 L198.8 848.1 L199.5 847.8 L206.3 845 L207 844.7 L207.7 844.6 L208.4 844.5 L209.2 844.5 L209.9 844.5 L210.7 844.7 L211.4 845 L212.1 845.3 L212.8 845.7 L213.5 846.1 L214.1 846.7 L214.7 847.3 L215.3 848 L215.8 848.7 L216.3 849.5 L216.8 850.3 L217.1 851.1 L217.5 852 L217.7 853 L217.9 853.9 L218.1 854.8 L218.1 855.8 L218.1 856.7 L218.1 857.7 L217.9 858.6 L217.8 859.5 L217.5 860.3 L217.2 861.2 L216.8 861.9 L216.4 862.7 L215.9 863.4 L215.4 864 L214.8 864.5 L214.2 865 L213.6 865.4 L212.9 865.7 L206.1 868.5 L205.4 868.8 L204.7 869 L203.9 869 L203.2 869 L202.5 869 L201.7 868.8 L201 868.6 L200.3 868.2 L199.6 867.8 L198.9 867.4 L198.2 866.8 L197.6 866.2 L197.1 865.5 L196.5 864.8 L196 864 L195.6 863.2 L195.2 862.4 L194.9 861.5 L194.7 860.6 L194.5 859.6 L194.3 858.7 L194.2 857.7Z" fill="#cfcfcf" stroke="#1e1c1d" stroke-width="1.1"/>
<ellipse cx="202.8" cy="858.2" rx="8.4" ry="11" transform="rotate(-10 202.8 858.2)" fill="#fff" stroke="#1e1c1d" stroke-width="1.3"/>
<ellipse cx="202.8" cy="858.2" rx="4.6" ry="6" transform="rotate(-10 202.8 858.2)" fill="#fff" stroke="#1e1c1d" stroke-width="1"/>
<path d="M283.5 802.4Q298 818 298.75 848.98" fill="none" stroke="#fff" stroke-width="14"/>
<path d="M300.5 859.5L289.62 848.98L307.38 846.02Z" fill="#fff" stroke="#fff" stroke-width="2.2" stroke-linejoin="round"/>
<path d="M283.5 802.4Q298 818 298.75 848.98" fill="none" stroke="#1e1c1d" stroke-width="12"/>
<path d="M300.5 859.5L289.62 848.98L307.38 846.02Z" fill="#1e1c1d"/>
<path transform="translate(296.5,801.5) rotate(-18.02)" d="M0 -3.25H12.5V-9.0L26.5 0L12.5 9.0V3.25H0Z" fill="#1e1c1d" stroke="#fff" stroke-width="1.2" paint-order="stroke"/>
<circle cx="279.1" cy="838.2" r="10.5" fill="#1e1c1d" stroke="#fff" stroke-width="0.8"/>
<circle cx="325.6" cy="815.6" r="10.5" fill="#1e1c1d" stroke="#fff" stroke-width="0.8"/>
<path d="M327.29 927.94A25.5 25.5 0 0 1 327.29 891.26" fill="none" stroke="#1e1c1d" stroke-width="4.4" stroke-linecap="round"/>
<path d="M332.39 886.86L329.12 898.71L320.95 891.35Z" fill="#1e1c1d"/>
<path d="M361.39 890.07A25.5 25.5 0 0 1 363.34 927.31" fill="none" stroke="#1e1c1d" stroke-width="4.4" stroke-linecap="round"/>
<path d="M357.21 932.56L360.48 920.7L368.65 928.06Z" fill="#1e1c1d"/>
<circle cx="345" cy="909.6" r="9.7" fill="#1e1c1d"/>
</g>
<g clip-path="url(#cMR)">
<path d="M659 723 Q670 700 698 682.5 L723.5 665.3" fill="none" stroke="#1e1c1d" stroke-width="1.2"/>
<path d="M663 722 Q676 702 700 687 L724 672" fill="none" stroke="#1e1c1d" stroke-width="0.6"/>
<path d="M684 700 Q695 688 698 692 Q692 700 684 700Z" fill="none" stroke="#1e1c1d" stroke-width="1"/>
<ellipse cx="696.5" cy="711.5" rx="5.5" ry="4.2" fill="none" stroke="#1e1c1d" stroke-width="1"/>
<path d="M701 708 L724 692 M691 715 L685 722" fill="none" stroke="#1e1c1d" stroke-width="0.7"/>
<path d="M628.2 776.3 L628.3 772.9 L628.7 769.5 L629.3 766.2 L630.1 763.1 L631.1 760.1 L632.3 757.3 L633.6 754.6 L635.2 752.2 L636.9 750 L638.8 748 L640.8 746.3 L643 744.8 L645.2 743.7 L676.3 731.9 L678.6 731 L681 730.4 L683.5 730.2 L686 730.2 L688.5 730.5 L691 731.1 L693.5 732.1 L695.9 733.3 L698.3 734.8 L700.6 736.5 L702.8 738.5 L704.9 740.8 L706.9 743.3 L708.7 746 L710.3 748.8 L711.8 751.9 L713.1 755 L714.3 758.3 L715.2 761.6 L715.9 765.1 L716.4 768.5 L716.7 772 L716.8 775.5 L716.6 778.9 L716.2 782.3 L715.6 785.5 L714.9 788.7 L713.9 791.7 L712.7 794.5 L711.3 797.1 L709.7 799.6 L708 801.8 L706.1 803.8 L704.1 805.5 L702 806.9 L699.7 808.1 L668.6 819.9 L666.3 820.8 L663.9 821.3 L661.4 821.6 L658.9 821.6 L656.4 821.3 L653.9 820.6 L651.5 819.7 L649 818.5 L646.6 817 L644.3 815.2 L642.1 813.2 L640 811 L638.1 808.5 L636.2 805.8 L634.6 803 L633.1 799.9 L631.8 796.8 L630.6 793.5 L629.7 790.1 L629 786.7 L628.5 783.2 L628.2 779.8Z" fill="#fff" stroke="#1e1c1d" stroke-width="1.3" stroke-linejoin="round"/>
<path d="M674.7 732.5 L677.7 731.4 L680.9 730.8 L684.1 730.8 L687.4 731.2 L690.6 732.2 L693.8 733.6 L696.9 735.5 L699.9 737.9 L702.7 740.7 L705.2 743.9 L707.6 747.4 L709.6 751.2 L711.4 755.3 L712.9 759.6 L714 764 L714.7 768.5 L715.1 773 L715.1 777.5 L714.8 781.9 L714 786.1 L713 790.2 L711.6 794 L709.8 797.5 L707.8 800.7 L705.5 803.4 L702.9 805.8 L700.1 807.7 L697.2 809.1 L694.1 810 L690.9 810.4" fill="none" stroke="#1e1c1d" stroke-width="1.8"/>
<path d="M673.3 733 L676.3 732.4 L679.4 732.2 L682.6 732.5 L685.8 733.2 L688.9 734.5 L692 736.2 L694.9 738.3 L697.7 740.9 L700.3 743.8 L702.7 747.1 L704.9 750.7 L706.7 754.5 L708.3 758.6 L709.6 762.8 L710.5 767.1 L711.1 771.5 L711.4 775.9 L711.3 780.3 L710.8 784.5 L710 788.6 L708.9 792.5 L707.5 796.2 L705.7 799.5 L703.7 802.5 L701.4 805.2 L698.9 807.4 L696.2 809.2 L693.3 810.6 L690.3 811.5 L687.2 811.9" fill="none" stroke="#1e1c1d" stroke-width="0.8"/>
<rect x="668.5" y="731.6" width="16" height="10" rx="3" transform="rotate(-20.7 676.5 736.6)" fill="#fff" stroke="#1e1c1d" stroke-width="0.8"/>
<rect x="684.4" y="743.8" width="16" height="10" rx="3" transform="rotate(-20.7 692.4 748.8)" fill="#fff" stroke="#1e1c1d" stroke-width="0.8"/>
<rect x="693.4" y="765.6" width="16" height="10" rx="3" transform="rotate(-20.7 701.4 770.6)" fill="#fff" stroke="#1e1c1d" stroke-width="0.8"/>
<rect x="692.4" y="789.1" width="16" height="10" rx="3" transform="rotate(-20.7 700.4 794.1)" fill="#fff" stroke="#1e1c1d" stroke-width="0.8"/>
<rect x="701.1" y="782.7" width="9" height="9" fill="#fff" stroke="#1e1c1d" stroke-width="1"/><circle cx="705.6" cy="787.2" r="2.3" fill="none" stroke="#1e1c1d"/>
<path d="M606.5 785 L606.6 781.6 L607 778.4 L607.6 775.2 L608.3 772.2 L609.3 769.3 L610.5 766.5 L611.8 764 L613.3 761.6 L615 759.4 L616.8 757.5 L618.8 755.8 L620.9 754.4 L623 753.3 L625.3 752.5 L645.5 744.8 L647.8 743.9 L650.1 743.4 L652.5 743.1 L655 743.1 L657.4 743.4 L659.8 744 L662.2 745 L664.6 746.1 L666.9 747.6 L669.1 749.3 L671.3 751.2 L673.3 753.4 L675.2 755.8 L677 758.4 L678.6 761.2 L680 764.1 L681.3 767.2 L682.4 770.4 L683.3 773.7 L684 777 L684.5 780.4 L684.8 783.7 L684.8 787.1 L684.7 790.4 L684.3 793.7 L683.8 796.8 L683 799.9 L682 802.8 L680.9 805.6 L679.5 808.1 L678 810.5 L676.3 812.6 L674.5 814.6 L672.5 816.2 L670.5 817.6 L668.3 818.8 L643.5 828.1 L641.2 828.7 L638.8 829 L636.4 829 L633.9 828.6 L631.5 828 L629.1 827.1 L626.7 826 L624.4 824.5 L622.2 822.8 L620 820.8 L618 818.6 L616.1 816.2 L614.3 813.6 L612.7 810.9 L611.3 807.9 L610 804.9 L608.9 801.7 L608 798.4 L607.3 795.1 L606.8 791.7 L606.5 788.3Z" fill="#fff" stroke="#1e1c1d" stroke-width="1.3" stroke-linejoin="round"/>
<path d="M649.2 743.6 L652.1 743.1 L655.1 743.1 L658.1 743.6 L661 744.5 L664 745.8 L666.8 747.5 L669.5 749.6 L672.1 752.1 L674.5 754.9 L676.8 758.1 L678.7 761.5 L680.5 765.1 L681.9 768.9 L683.1 772.9 L684 777 L684.6 781.1 L684.8 785.3 L684.7 789.4 L684.4 793.4 L683.7 797.3 L682.7 801 L681.4 804.4 L679.8 807.7 L677.9 810.6 L675.8 813.2 L673.5 815.4 L671.1 817.3 L668.4 818.7 L665.6 819.7 L662.7 820.3" fill="none" stroke="#1e1c1d" stroke-width="1.1"/>
<rect x="652.4" y="740.3" width="18" height="27" transform="rotate(-12.7 661.4 753.3)" fill="#fff" stroke="#1e1c1d" stroke-width="0.8"/>
<g transform="translate(661.4,753.3) rotate(-12.7)" stroke="#1e1c1d"><circle cx="-5" cy="-9" r="1.6" fill="none" stroke-width="0.8"/><path d="M-5 -4 H4 M-3 -1 H3 M-3 2 H2 M-2 5 H4 M-4 9 H3" stroke-width="1.3"/></g>
<g transform="translate(640.2,749.2) rotate(41.3)"><rect x="-2.5" y="-11" width="5" height="22" fill="#1e1c1d"/><path d="M0 -10 V10" stroke="#fff" stroke-width="1" stroke-dasharray="1.5 1"/></g>
<ellipse cx="634.4" cy="790.3" rx="27.5" ry="39" transform="rotate(-10 634.4 790.3)" fill="#fff" stroke="#1e1c1d" stroke-width="1.4"/>
<ellipse cx="634.4" cy="790.3" rx="23.1" ry="32.8" transform="rotate(-10 634.4 790.3)" fill="none" stroke="#1e1c1d" stroke-width="0.9"/>
<ellipse cx="631.2" cy="791.5" rx="18.2" ry="25.7" transform="rotate(-10 631.2 791.5)" fill="#fff" stroke="#1e1c1d" stroke-width="1.1"/>
<path d="M642.6 789.5L647.4 788.7M642.8 795.2L647.8 796.7M641.7 800.4L646.2 804.1M639.3 804.5L642.8 810M636 807.1L638 813.7M632 807.8L632.4 814.7M628 806.5L626.6 812.9M624.3 803.4L621.3 808.5M621.5 798.9L617.3 802.1M619.8 793.5L614.9 794.4M619.5 787.9L614.5 786.3M620.6 782.7L616.1 778.9M623 778.6L619.5 773M626.4 776L624.4 769.3M630.4 775.3L630 768.3M634.4 776.5L635.8 770.1M638.1 779.6L641 774.5M640.9 784.1L645.1 780.9" stroke="#1e1c1d" stroke-width="2.8"/>
<ellipse cx="631.2" cy="791.5" rx="11.5" ry="16.4" transform="rotate(-10 631.2 791.5)" fill="#fff" stroke="#1e1c1d" stroke-width="1.2"/>
<ellipse cx="631.2" cy="791.5" rx="16.5" ry="23.4" transform="rotate(-10 631.2 791.5)" fill="none" stroke="#1e1c1d" stroke-width="1"/>
<path d="M607.3 800.2 L607.4 799.4 L607.5 798.7 L607.6 797.9 L607.8 797.2 L608 796.5 L608.3 795.8 L608.6 795.2 L609 794.6 L609.4 794.1 L609.8 793.6 L610.3 793.2 L610.8 792.9 L629.1 782.8 L629.6 782.5 L630.2 782.3 L630.7 782.2 L631.3 782.1 L631.9 782.1 L632.5 782.2 L633.1 782.4 L633.6 782.6 L634.2 782.9 L634.8 783.2 L635.3 783.6 L635.8 784.1 L636.3 784.6 L636.8 785.2 L637.2 785.8 L637.6 786.5 L637.9 787.2 L638.2 787.9 L638.5 788.7 L638.7 789.5 L638.9 790.3 L639 791.1 L639 791.9 L639.1 792.7 L639 793.5 L638.9 794.3 L638.8 795 L638.6 795.8 L638.4 796.5 L638.1 797.1 L637.8 797.8 L637.4 798.3 L637 798.8 L636.6 799.3 L636.1 799.7 L635.6 800 L617.3 810.1 L616.8 810.4 L616.2 810.6 L615.7 810.7 L615.1 810.8 L614.5 810.8 L613.9 810.7 L613.3 810.6 L612.8 810.4 L612.2 810.1 L611.6 809.7 L611.1 809.3 L610.6 808.8 L610.1 808.3 L609.6 807.7 L609.2 807.1 L608.8 806.5 L608.5 805.7 L608.2 805 L607.9 804.2 L607.7 803.5 L607.5 802.7 L607.4 801.9 L607.4 801Z" fill="#b0b0b0" stroke="#1e1c1d" stroke-width="1.1"/>
<path d="M619.5 788.4 L621.3 788.4 L623 789 L624.6 790.3 L626 792 L627 794.1 L627.7 796.4 L627.9 798.9 L627.6 801.2 L626.9 803.3 L625.8 805 L624.4 806.2 L622.8 806.8M622 787 L623.7 787 L625.4 787.7 L627.1 788.9 L628.4 790.6 L629.5 792.8 L630.1 795.1 L630.3 797.5 L630 799.9 L629.4 802 L628.3 803.7 L626.9 804.9 L625.2 805.5M624.4 785.7 L626.2 785.7 L627.9 786.3 L629.5 787.6 L630.9 789.3 L631.9 791.4 L632.5 793.8 L632.7 796.2 L632.5 798.5 L631.8 800.6 L630.7 802.3 L629.3 803.5 L627.7 804.1M626.9 784.3 L628.6 784.4 L630.3 785 L631.9 786.2 L633.3 788 L634.4 790.1 L635 792.4 L635.2 794.8 L634.9 797.2 L634.2 799.3 L633.2 801 L631.7 802.2 L630.1 802.8" fill="none" stroke="#1e1c1d" stroke-width="0.7"/>
<path d="M606.7 800.1 L606.7 799.2 L606.8 798.4 L607 797.5 L607.1 796.7 L607.4 796 L607.7 795.2 L608.1 794.6 L608.5 793.9 L608.9 793.4 L609.4 792.9 L609.9 792.4 L610.5 792 L616.6 788.7 L617.1 788.4 L617.7 788.2 L618.4 788 L619 787.9 L619.6 788 L620.3 788 L620.9 788.2 L621.5 788.4 L622.2 788.7 L622.8 789.1 L623.4 789.6 L623.9 790.1 L624.5 790.7 L625 791.3 L625.4 792 L625.9 792.7 L626.2 793.5 L626.6 794.3 L626.9 795.1 L627.1 796 L627.3 796.9 L627.4 797.8 L627.5 798.7 L627.5 799.6 L627.5 800.4 L627.4 801.3 L627.2 802.1 L627 802.9 L626.8 803.7 L626.5 804.4 L626.1 805.1 L625.7 805.7 L625.3 806.3 L624.8 806.8 L624.3 807.2 L623.7 807.6 L617.6 811 L617 811.3 L616.4 811.5 L615.8 811.6 L615.2 811.7 L614.5 811.7 L613.9 811.6 L613.3 811.5 L612.6 811.2 L612 810.9 L611.4 810.5 L610.8 810.1 L610.2 809.6 L609.7 809 L609.2 808.4 L608.7 807.7 L608.3 806.9 L607.9 806.2 L607.6 805.4 L607.3 804.5 L607.1 803.6 L606.9 802.8 L606.8 801.9 L606.7 801Z" fill="#b0b0b0" stroke="#1e1c1d" stroke-width="1.1"/>
<ellipse cx="614" cy="801.5" rx="7.3" ry="10.3" transform="rotate(-10 614 801.5)" fill="#a0a0a0" stroke="#1e1c1d" stroke-width="1.3"/>
<ellipse cx="614" cy="801.5" rx="4" ry="5.6" transform="rotate(-10 614 801.5)" fill="#d0d0d0" stroke="#1e1c1d" stroke-width="1"/>
<path d="M700 822 Q712 830 724 828" fill="none" stroke="#1e1c1d" stroke-width="1"/>
<path d="M529.1 838.5 L529.1 835 L529.4 831.5 L529.9 828.1 L530.5 824.9 L531.3 821.9 L532.4 819 L533.5 816.3 L534.9 813.8 L536.4 811.5 L538 809.5 L539.8 807.8 L541.7 806.4 L543.7 805.2 L545.8 804.4 L562.6 798.1 L564.8 797.5 L567 797.3 L569.2 797.4 L571.5 797.8 L573.8 798.5 L576.1 799.5 L578.3 800.8 L580.5 802.4 L582.6 804.3 L584.6 806.4 L586.6 808.8 L588.4 811.4 L590.1 814.2 L591.7 817.2 L593.1 820.3 L594.4 823.6 L595.5 827 L596.4 830.5 L597.1 834.1 L597.6 837.7 L598 841.3 L598.1 844.8 L598 848.4 L597.8 851.8 L597.3 855.1 L596.7 858.4 L595.9 861.4 L594.9 864.3 L593.7 867 L592.3 869.5 L590.8 871.8 L589.1 873.8 L587.4 875.5 L585.5 876.9 L583.5 878.1 L581.4 878.9 L564.6 885.2 L562.4 885.8 L560.2 886 L558 885.9 L555.7 885.5 L553.4 884.8 L551.1 883.8 L548.9 882.5 L546.7 880.9 L544.6 879 L542.6 876.9 L540.6 874.5 L538.8 871.9 L537.1 869.1 L535.5 866.1 L534.1 863 L532.8 859.7 L531.7 856.3 L530.8 852.8 L530.1 849.2 L529.6 845.6 L529.2 842Z" fill="#f4f4f4" stroke="#1e1c1d" stroke-width="1.4"/>
<path d="M558.4 799.6 L561.2 799 L564 798.9 L566.9 799.3 L569.7 800.1 L572.6 801.5 L575.4 803.3 L578.1 805.6 L580.7 808.3 L583.1 811.4 L585.4 814.8 L587.4 818.5 L589.2 822.6 L590.7 826.8 L591.9 831.2 L592.9 835.7 L593.5 840.2 L593.9 844.7 L593.9 849.2 L593.6 853.6 L592.9 857.8 L592 861.8 L590.8 865.5 L589.3 869 L587.5 872 L585.5 874.7 L583.3 877 L580.9 878.8 L578.3 880.1 L575.6 880.9 L572.8 881.3" fill="none" stroke="#1e1c1d" stroke-width="0.9"/>
<path d="M544 799.5 L571 798 L580 812 L551 815Z" fill="#c4c4c4" stroke="#1e1c1d" stroke-width="0.8"/>
<path d="M561 801 L575 799.5" stroke="#1e1c1d" stroke-width="0.8"/>
<path d="M486.9 854.9 L486.9 851.5 L487.2 848.2 L487.6 845 L488.2 841.9 L489.1 838.9 L490 836.1 L491.2 833.6 L492.5 831.2 L493.9 829 L495.5 827.1 L497.2 825.4 L499.1 824 L501 822.9 L503 822.1 L546.2 805.9 L548.2 805.4 L550.4 805.2 L552.5 805.3 L554.7 805.6 L556.9 806.3 L559.1 807.3 L561.2 808.6 L563.4 810.1 L565.4 811.9 L567.4 813.9 L569.2 816.2 L571 818.7 L572.6 821.4 L574.1 824.3 L575.5 827.3 L576.7 830.5 L577.8 833.8 L578.6 837.1 L579.3 840.5 L579.8 844 L580.2 847.5 L580.3 850.9 L580.2 854.3 L580 857.6 L579.6 860.8 L579 863.9 L578.1 866.9 L577.2 869.6 L576 872.2 L574.7 874.6 L573.3 876.8 L571.7 878.7 L570 880.4 L568.1 881.8 L566.2 882.9 L564.2 883.7 L521 899.9 L519 900.4 L516.8 900.6 L514.6 900.5 L512.5 900.1 L510.3 899.5 L508.1 898.5 L505.9 897.2 L503.9 895.7 L501.8 893.9 L499.9 891.9 L498 889.6 L496.2 887.1 L494.6 884.4 L493.1 881.5 L491.7 878.5 L490.5 875.3 L489.4 872 L488.6 868.7 L487.9 865.2 L487.4 861.8 L487 858.4Z" fill="#fff" stroke="#1e1c1d" stroke-width="1.3"/>
<path d="M546.2 805.9 L548.8 805.3 L551.5 805.2 L554.3 805.5 L557.1 806.4 L559.8 807.7 L562.5 809.4 L565.1 811.6 L567.6 814.2 L569.9 817.2 L572.1 820.5 L574 824.1 L575.8 828 L577.2 832 L578.4 836.2 L579.3 840.5 L579.9 844.9 L580.3 849.3 L580.3 853.6 L580 857.8 L579.4 861.9 L578.5 865.7 L577.3 869.3 L575.9 872.6 L574.2 875.5 L572.2 878.1 L570.1 880.3 L567.8 882 L565.3 883.3 L562.7 884.1 L560 884.4" fill="none" stroke="#1e1c1d" stroke-width="1.1"/>
<path d="M544.4 813.1 L548 820.2 M560.4 837.1 L563.1 845.1 M569.3 864.7 L570.2 872.7" stroke="#1e1c1d" stroke-width="2.6"/>
<path d="M453.8 859 L455.6 886 Q462.7 900.2 478.7 907.3 Q496 906.5 510.7 902 L533 892 Q545 870 530 845 Q520 828 505 822 Q500 836 503.6 855.8 Z" fill="#fff" stroke="none"/>
<path d="M453.8 859 L455.6 886 Q462.7 900.2 478.7 907.3 Q496 906.5 510.7 902 L533 892" fill="none" stroke="#1e1c1d" stroke-width="1.3"/>
<path d="M503.6 855.8 Q500 836 510.7 825.6" fill="none" stroke="#1e1c1d" stroke-width="1.3"/>
<path d="M505 842 Q530 846 536 862 Q539 878 532 890" fill="none" stroke="#1e1c1d" stroke-width="1"/>
<path d="M486 888 Q497 883 505 873" fill="none" stroke="#1e1c1d" stroke-width="0.8"/>
<ellipse cx="478.7" cy="856.7" rx="25" ry="13" transform="rotate(-4 478.7 856.7)" fill="#fff" stroke="#1e1c1d" stroke-width="1.3"/>
<ellipse cx="478" cy="857" rx="12.5" ry="6.5" fill="#777" stroke="#1e1c1d" stroke-width="1.2"/>
<path d="M468 831 V856 Q478 861 488 856 V831Z" fill="#fff" stroke="#1e1c1d" stroke-width="1.2"/>
<path d="M468 842 Q478 847 488 842 M468 846 Q478 851 488 846 M468 850 Q478 855 488 850" fill="none" stroke="#1e1c1d" stroke-width="1"/>
<ellipse cx="478" cy="831" rx="10" ry="4.8" fill="#fff" stroke="#1e1c1d" stroke-width="1.3"/>
<ellipse cx="478" cy="831" rx="5.5" ry="2.5" fill="none" stroke="#1e1c1d" stroke-width="0.9"/>
<path d="M578.2 814Q591 830 593.16 858.49" fill="none" stroke="#fff" stroke-width="11"/>
<path d="M594.2 868.2L586.04 857.75L599.96 856.25Z" fill="#fff" stroke="#fff" stroke-width="2.2" stroke-linejoin="round"/>
<path d="M578.2 814Q591 830 593.16 858.49" fill="none" stroke="#1e1c1d" stroke-width="9"/>
<path d="M594.2 868.2L586.04 857.75L599.96 856.25Z" fill="#1e1c1d"/>
<path transform="translate(590.5,815) rotate(-25.45)" d="M0 -3.25H7.96V-10.5L25.36 0L7.96 10.5V3.25H0Z" fill="#1e1c1d" stroke="#fff" stroke-width="1.2" paint-order="stroke"/>
<path d="M468 785L474.5 779.5M483.5 775.3L491.8 776.5M503.5 777.5L512 783M463.2 792.5L460.5 800" fill="none" stroke="#1e1c1d" stroke-width="4.8"/><path d="M456.2 814L451.2 799.6L467.8 802.6Z" fill="#1e1c1d"/>
<path d="M570.2 888.7L569.3 898.4M564 909.1L559.6 914.4M549.8 919.8L542.7 920.7M531.1 920.7L523 917.8" fill="none" stroke="#1e1c1d" stroke-width="4.8"/><path d="M508.9 915.8L523.1 908.2L523.1 924.4Z" fill="#1e1c1d"/>
<path d="M592.52 885.4V879.08A7.28 7.28 0 0 1 607.08 879.08V885.4Z" fill="#fff" stroke="#1e1c1d" stroke-width="2.09"/>
<rect x="590.05" y="885.35" width="19.5" height="14.7" fill="#fff" stroke="#1e1c1d" stroke-width="1.9"/>
<circle cx="599.8" cy="891.37" r="1.6" fill="#1e1c1d"/><path d="M599.05 891.37L597.87 896.35H601.73L600.55 891.37Z" fill="#1e1c1d"/>
<circle cx="529.4" cy="788.8" r="10.7" fill="#1e1c1d" stroke="#fff" stroke-width="0.8"/>
<circle cx="596.3" cy="777.5" r="10.7" fill="#1e1c1d" stroke="#fff" stroke-width="0.8"/>
<circle cx="606.6" cy="836.8" r="10.7" fill="#1e1c1d" stroke="#fff" stroke-width="0.8"/>
<path d="M672.29 925.54A25.5 25.5 0 0 1 672.29 888.86" fill="none" stroke="#1e1c1d" stroke-width="4.4" stroke-linecap="round"/>
<path d="M677.39 884.46L674.12 896.31L665.95 888.95Z" fill="#1e1c1d"/>
<path d="M706.39 887.67A25.5 25.5 0 0 1 708.34 924.91" fill="none" stroke="#1e1c1d" stroke-width="4.4" stroke-linecap="round"/>
<path d="M702.21 930.16L705.48 918.3L713.65 925.66Z" fill="#1e1c1d"/>
<circle cx="690" cy="907.2" r="9.7" fill="#1e1c1d"/>
</g>
<g clip-path="url(#cBT)">
<path d="M517.1 980 Q525 962 545.1 952.8 Q560 946 575 944" fill="none" stroke="#1e1c1d" stroke-width="1.2"/>
<path d="M537 958 L548 955 L540 962" fill="none" stroke="#1e1c1d" stroke-width="0.9"/>
<ellipse cx="552.9" cy="971.4" rx="6" ry="4.5" transform="rotate(-15 552.9 971.4)" fill="none" stroke="#1e1c1d" stroke-width="1"/>
<path d="M558 968 L577.8 950.4 M548 975 L541.2 981.5" fill="none" stroke="#1e1c1d" stroke-width="0.7"/>
<path d="M593.3 949.7 Q612 952 618.2 960.6 Q628 975 627.5 991.7 Q628 1010 627.5 1022.8 Q625 1045 618.2 1053.9 Q610 1065 601.1 1069.4 L587.1 1074.1" fill="none" stroke="#1e1c1d" stroke-width="1.3"/>
<path d="M596 946 Q614 950 621 958 Q631 975 630.5 992 Q631 1012 630.5 1024 Q628 1047 621 1056 Q613 1067 603 1072" fill="none" stroke="#1e1c1d" stroke-width="0.7"/>
<path d="M638.9 951.9 Q645 965 647.2 982.5" fill="none" stroke="#1e1c1d" stroke-width="0.8"/>
<path d="M630.6 996.4 L683.3 955.4 M640 1000 L700 955" fill="none" stroke="#1e1c1d" stroke-width="0.9"/>
<path d="M650 988 L700 950 L724 945 L724 984 L719.4 986.7 L643.8 1026.3 Z" fill="#fff" stroke="#1e1c1d" stroke-width="1.3"/>
<text transform="translate(653,1001.5) rotate(-36.5) skewX(-14)" font-family="Liberation Sans" font-weight="bold" font-size="20" fill="#fff" stroke="#1e1c1d" stroke-width="1.3" stroke-linejoin="round" textLength="93" lengthAdjust="spacingAndGlyphs">FESTOOL</text>
<text transform="translate(657,1013.5) rotate(-36.5) skewX(-14)" font-family="Liberation Sans" font-weight="bold" font-size="11" fill="#1e1c1d" stroke="#1e1c1d" stroke-width="0.4">TI 15</text>
<text transform="translate(700,972) rotate(-36)" font-family="Liberation Sans" font-weight="bold" font-size="6" fill="#1e1c1d">10,8V 1,5-I</text>
<path d="M656 1016 L715 976 M674 1010 L720 978" stroke="#1e1c1d" stroke-width="1.2"/>
<path d="M673 1021 L719 990" fill="none" stroke="#1e1c1d" stroke-width="1"/>
<path d="M684.7 1008.9 Q680 1020 683.3 1024.2 Q690 1040 697.2 1056.1 Q708 1085 713.9 1108.9 L718.5 1125.5" fill="none" stroke="#1e1c1d" stroke-width="1.2"/>
<path d="M707.7 1080 L718.5 1125.5" fill="none" stroke="#1e1c1d" stroke-width="1"/>
<path d="M631.8 1158 Q645 1166 655.7 1167.8 Q672 1168 686 1160.2 Q702 1150 714.2 1134.2" fill="none" stroke="#1e1c1d" stroke-width="1"/>
<path d="M612.3 1061.7 L643.5 1043 L648 1044.5 L650.3 1047 Q651 1051 649.5 1055 L622 1068.5 Q614 1068.5 612.3 1065Z" fill="#fff" stroke="#1e1c1d" stroke-width="1.5"/>
<path d="M618.5 1067 Q622 1060 637 1052.5 M644 1048 L647 1046.5" fill="none" stroke="#1e1c1d" stroke-width="0.7"/>
<path d="M600 1079 Q606 1072 612 1066 M602 1078 Q612 1066 620 1058 M601 1075 Q615 1058 624 1048" fill="none" stroke="#1e1c1d" stroke-width="0.6"/>
<path d="M581.4 1077 L621.3 1069.3 Q624.5 1085 622 1098 Q619 1101.5 614 1102.5 L592 1106 Q583 1100 581.4 1077Z" fill="#fff" stroke="#1e1c1d" stroke-width="1.4"/>
<path d="M606.5 1074.5 Q608 1090 604.5 1105" fill="none" stroke="#1e1c1d" stroke-width="0.7"/>
<path d="M623.3 1070 Q630 1082 631.3 1098 M618 1101 L631.3 1098 L660 1089.5" fill="none" stroke="#1e1c1d" stroke-width="0.9"/>
<path d="M588 1074 L600 1072" fill="none" stroke="#1e1c1d" stroke-width="0.8"/>
<path d="M619.9 1101.7 Q626 1125 630.8 1151.5 M624 1103 Q630 1126 634.5 1152" fill="none" stroke="#1e1c1d" stroke-width="1"/>
<path d="M547.3 1207.8 L630.8 1152.6" fill="none" stroke="#1e1c1d" stroke-width="1.3"/>
<path d="M566 1214 Q575 1200 600 1190 Q640 1178 660 1185" fill="none" stroke="#1e1c1d" stroke-width="0.9"/>
<path d="M580 1214 Q590 1203 610 1196 M598 1214 Q610 1205 625 1200" fill="none" stroke="#1e1c1d" stroke-width="0.9"/>
<path d="M560 1209 Q570 1203 580 1205 Q575 1212 562 1213Z" fill="none" stroke="#1e1c1d" stroke-width="0.9"/>
<path d="M613 1170 Q620 1163 627 1165 Q625 1172 615 1172Z" fill="none" stroke="#1e1c1d" stroke-width="0.9"/>
<path d="M640 1158 Q650 1180 640 1200" fill="none" stroke="#1e1c1d" stroke-width="0.6"/>
<path d="M700 1213 L720 1203 M708 1213 L720 1207 M693 1213 L716 1200" fill="none" stroke="#1e1c1d" stroke-width="0.9"/>
<rect x="675" y="1166.5" width="20" height="7" rx="3" transform="rotate(-25 685 1170)" fill="#fff" stroke="#1e1c1d" stroke-width="1.2"/>
<path d="M680 1166 L681 1174 M685 1165 L686 1173 M690 1164 L691 1172" transform="rotate(-25 685 1170)" stroke="#1e1c1d" stroke-width="0.8"/>
<rect x="681" y="1180.5" width="20" height="7" rx="3" transform="rotate(-25 691 1184)" fill="#fff" stroke="#1e1c1d" stroke-width="1.2"/>
<path d="M686 1180 L687 1188 M691 1179 L692 1187 M696 1178 L697 1186" transform="rotate(-25 691 1184)" stroke="#1e1c1d" stroke-width="0.8"/>
<rect x="699" y="1152.5" width="20" height="7" rx="3" transform="rotate(-25 709 1156)" fill="#fff" stroke="#1e1c1d" stroke-width="1.2"/>
<path d="M704 1152 L705 1160 M709 1151 L710 1159 M714 1150 L715 1158" transform="rotate(-25 709 1156)" stroke="#1e1c1d" stroke-width="0.8"/>
<rect x="704" y="1166.5" width="20" height="7" rx="3" transform="rotate(-25 714 1170)" fill="#fff" stroke="#1e1c1d" stroke-width="1.2"/>
<path d="M709 1166 L710 1174 M714 1165 L715 1173 M719 1164 L720 1172" transform="rotate(-25 714 1170)" stroke="#1e1c1d" stroke-width="0.8"/>
<path d="M483.9 1036.5 L484.1 1033 L484.5 1029.5 L485.2 1026.2 L486.1 1023 L487.2 1019.9 L488.6 1016.9 L490.1 1014.2 L491.8 1011.7 L493.7 1009.4 L495.8 1007.3 L498 1005.5 L500.4 1004 L502.8 1002.8 L533.7 991 L536.2 990 L538.9 989.4 L541.5 989.1 L544.2 989.1 L547 989.4 L549.7 990 L552.4 991 L555 992.2 L557.6 993.7 L560.1 995.5 L562.5 997.5 L564.7 999.8 L566.8 1002.3 L568.8 1005.1 L570.6 1008 L572.1 1011.1 L573.5 1014.3 L574.7 1017.7 L575.7 1021.1 L576.4 1024.6 L576.9 1028.2 L577.2 1031.8 L577.2 1035.3 L577 1038.8 L576.6 1042.3 L575.9 1045.6 L575 1048.9 L573.9 1052 L572.6 1054.9 L571 1057.6 L569.3 1060.2 L567.4 1062.5 L565.3 1064.5 L563.1 1066.3 L560.8 1067.8 L558.3 1069 L527.5 1080.9 L524.9 1081.8 L522.3 1082.4 L519.6 1082.7 L516.9 1082.7 L514.2 1082.4 L511.5 1081.8 L508.8 1080.9 L506.1 1079.7 L503.6 1078.2 L501.1 1076.4 L498.7 1074.3 L496.4 1072 L494.3 1069.5 L492.4 1066.8 L490.6 1063.8 L489 1060.8 L487.6 1057.5 L486.4 1054.2 L485.4 1050.7 L484.7 1047.2 L484.2 1043.6 L483.9 1040.1Z" fill="#fff" stroke="#1e1c1d" stroke-width="1.3" stroke-linejoin="round"/>
<path d="M532.1 991.6 L535.4 990.4 L538.9 989.8 L542.4 989.7 L545.9 990.1 L549.4 991.1 L552.9 992.5 L556.3 994.5 L559.4 996.9 L562.5 999.7 L565.2 1002.9 L567.7 1006.5 L569.9 1010.4 L571.8 1014.6 L573.3 1019 L574.5 1023.5 L575.3 1028.1 L575.6 1032.7 L575.6 1037.3 L575.2 1041.9 L574.3 1046.3 L573.1 1050.4 L571.5 1054.4 L569.6 1058 L567.4 1061.2 L564.8 1064.1 L562 1066.6 L558.9 1068.6 L555.7 1070 L552.4 1071 L548.9 1071.5" fill="none" stroke="#1e1c1d" stroke-width="1.8"/>
<path d="M530.9 992.1 L534.2 991.4 L537.6 991.1 L541.1 991.4 L544.5 992.1 L547.9 993.4 L551.3 995.1 L554.4 997.3 L557.4 999.8 L560.3 1002.8 L562.8 1006.2 L565.1 1009.8 L567.1 1013.8 L568.8 1017.9 L570.1 1022.2 L571.1 1026.7 L571.7 1031.2 L571.9 1035.7 L571.8 1040.2 L571.2 1044.6 L570.3 1048.8 L569.1 1052.8 L567.4 1056.6 L565.5 1060 L563.3 1063.1 L560.7 1065.9 L558 1068.2 L555 1070.1 L551.8 1071.5 L548.5 1072.5 L545.2 1072.9" fill="none" stroke="#1e1c1d" stroke-width="0.8"/>
<rect x="527.3" y="990.5" width="16" height="10" rx="3" transform="rotate(-21 535.3 995.5)" fill="#fff" stroke="#1e1c1d" stroke-width="0.8"/>
<rect x="544.5" y="1002.8" width="16" height="10" rx="3" transform="rotate(-21 552.5 1007.8)" fill="#fff" stroke="#1e1c1d" stroke-width="0.8"/>
<rect x="554.1" y="1025.1" width="16" height="10" rx="3" transform="rotate(-21 562.1 1030.1)" fill="#fff" stroke="#1e1c1d" stroke-width="0.8"/>
<rect x="552.7" y="1049.4" width="16" height="10" rx="3" transform="rotate(-21 560.7 1054.4)" fill="#fff" stroke="#1e1c1d" stroke-width="0.8"/>
<rect x="555" y="1043" width="9" height="9" fill="#fff" stroke="#1e1c1d" stroke-width="1"/><circle cx="559.5" cy="1047.5" r="2.3" fill="none" stroke="#1e1c1d"/>
<path d="M462.5 1045.2 L462.7 1041.8 L463.1 1038.5 L463.7 1035.2 L464.6 1032.1 L465.7 1029.1 L467 1026.2 L468.5 1023.6 L470.2 1021.1 L472 1018.9 L474 1016.9 L476.2 1015.2 L478.4 1013.7 L480.8 1012.5 L503.2 1003.9 L505.6 1003 L508.2 1002.4 L510.8 1002.1 L513.4 1002.1 L516.1 1002.4 L518.7 1003 L521.3 1003.9 L523.9 1005.1 L526.4 1006.6 L528.8 1008.3 L531.1 1010.3 L533.3 1012.5 L535.4 1015 L537.3 1017.6 L539 1020.5 L540.5 1023.5 L541.9 1026.6 L543 1029.9 L544 1033.2 L544.7 1036.6 L545.2 1040.1 L545.5 1043.5 L545.5 1047 L545.3 1050.4 L544.9 1053.8 L544.2 1057 L543.3 1060.2 L542.2 1063.2 L541 1066 L539.5 1068.7 L537.8 1071.1 L535.9 1073.3 L533.9 1075.3 L531.8 1077.1 L529.5 1078.5 L527.1 1079.7 L504.8 1088.3 L502.3 1089.2 L499.8 1089.8 L497.1 1090.1 L494.5 1090.1 L491.9 1089.8 L489.2 1089.2 L486.6 1088.3 L484 1087.1 L481.5 1085.7 L479.1 1083.9 L476.8 1081.9 L474.6 1079.7 L472.6 1077.3 L470.7 1074.6 L469 1071.8 L467.4 1068.8 L466.1 1065.6 L464.9 1062.4 L464 1059 L463.3 1055.6 L462.8 1052.2 L462.5 1048.7Z" fill="#fff" stroke="#1e1c1d" stroke-width="1.3" stroke-linejoin="round"/>
<path d="M507.2 1002.6 L510.3 1002.2 L513.6 1002.1 L516.8 1002.6 L520.1 1003.5 L523.2 1004.8 L526.3 1006.5 L529.3 1008.7 L532 1011.2 L534.6 1014.1 L537 1017.3 L539.1 1020.7 L541 1024.5 L542.5 1028.4 L543.8 1032.4 L544.7 1036.6 L545.3 1040.9 L545.5 1045.1 L545.4 1049.3 L544.9 1053.4 L544.1 1057.4 L543 1061.3 L541.5 1064.8 L539.7 1068.2 L537.7 1071.2 L535.4 1073.9 L532.9 1076.2 L530.1 1078.2 L527.2 1079.7 L524.2 1080.7 L521.1 1081.4" fill="none" stroke="#1e1c1d" stroke-width="1.1"/>
<rect x="512.3" y="999.3" width="18" height="27" transform="rotate(-13 521.3 1012.3)" fill="#fff" stroke="#1e1c1d" stroke-width="0.8"/>
<g transform="translate(521.3,1012.3) rotate(-13)" stroke="#1e1c1d"><circle cx="-5" cy="-9" r="1.6" fill="none" stroke-width="0.8"/><path d="M-5 -4 H4 M-3 -1 H3 M-3 2 H2 M-2 5 H4 M-4 9 H3" stroke-width="1.3"/></g>
<g transform="translate(498.9,1008.2) rotate(41)"><rect x="-2.5" y="-11" width="5" height="22" fill="#1e1c1d"/><path d="M0 -10 V10" stroke="#fff" stroke-width="1" stroke-dasharray="1.5 1"/></g>
<ellipse cx="492.8" cy="1050.4" rx="30" ry="40" transform="rotate(-10 492.8 1050.4)" fill="#fff" stroke="#1e1c1d" stroke-width="1.4"/>
<ellipse cx="492.8" cy="1050.4" rx="25.2" ry="33.6" transform="rotate(-10 492.8 1050.4)" fill="none" stroke="#1e1c1d" stroke-width="0.9"/>
<ellipse cx="489.6" cy="1051.6" rx="19.8" ry="26.4" transform="rotate(-10 489.6 1051.6)" fill="#fff" stroke="#1e1c1d" stroke-width="1.1"/>
<path d="M502 1049.4L507.3 1048.5M502.3 1055.2L507.7 1056.8M501 1060.6L505.9 1064.4M498.3 1064.9L502.1 1070.5M494.6 1067.5L496.8 1074.4M490.3 1068.3L490.6 1075.4M485.9 1067L484.4 1073.7M482 1063.9L478.7 1069.2M478.9 1059.3L474.4 1062.6M477.2 1053.8L471.9 1054.7M476.9 1048L471.5 1046.5M478.2 1042.7L473.3 1038.8M480.9 1038.4L477.1 1032.7M484.6 1035.7L482.4 1028.9M488.9 1035L488.6 1027.8M493.3 1036.2L494.9 1029.6M497.2 1039.3L500.5 1034M500.3 1043.9L504.8 1040.6" stroke="#1e1c1d" stroke-width="2.8"/>
<ellipse cx="489.6" cy="1051.6" rx="12.6" ry="16.8" transform="rotate(-10 489.6 1051.6)" fill="#fff" stroke="#1e1c1d" stroke-width="1.2"/>
<ellipse cx="489.6" cy="1051.6" rx="18" ry="24" transform="rotate(-10 489.6 1051.6)" fill="none" stroke="#1e1c1d" stroke-width="1"/>
<path d="M463.2 1060.2 L463.2 1059.4 L463.3 1058.6 L463.5 1057.8 L463.7 1057.1 L463.9 1056.3 L464.3 1055.7 L464.6 1055 L465 1054.4 L465.5 1053.9 L465.9 1053.4 L466.5 1053 L467 1052.7 L467.6 1052.4 L487.7 1042.4 L488.3 1042.2 L488.9 1042 L489.5 1042 L490.2 1042 L490.8 1042 L491.4 1042.2 L492.1 1042.4 L492.7 1042.7 L493.3 1043 L493.9 1043.5 L494.4 1043.9 L494.9 1044.5 L495.4 1045.1 L495.9 1045.7 L496.3 1046.4 L496.7 1047.1 L497 1047.8 L497.3 1048.6 L497.5 1049.4 L497.7 1050.3 L497.8 1051.1 L497.8 1051.9 L497.9 1052.8 L497.8 1053.6 L497.7 1054.4 L497.5 1055.2 L497.3 1055.9 L497.1 1056.6 L496.8 1057.3 L496.4 1058 L496 1058.5 L495.6 1059.1 L495.1 1059.5 L494.6 1060 L494 1060.3 L473.9 1070.3 L473.3 1070.6 L472.7 1070.8 L472.1 1070.9 L471.5 1071 L470.9 1071 L470.2 1070.9 L469.6 1070.8 L469 1070.6 L468.4 1070.3 L467.8 1069.9 L467.2 1069.5 L466.6 1069 L466.1 1068.5 L465.6 1067.9 L465.1 1067.3 L464.7 1066.6 L464.4 1065.9 L464 1065.1 L463.8 1064.3 L463.5 1063.5 L463.4 1062.7 L463.2 1061.9 L463.2 1061.1Z" fill="#b0b0b0" stroke="#1e1c1d" stroke-width="1.1"/>
<path d="M476.6 1048.1 L478.5 1048.1 L480.4 1048.8 L482.1 1050 L483.6 1051.8 L484.7 1053.9 L485.4 1056.3 L485.6 1058.8 L485.3 1061.2 L484.5 1063.4 L483.3 1065.2 L481.7 1066.4 L479.9 1067M479.3 1046.8 L481.2 1046.8 L483.1 1047.5 L484.8 1048.7 L486.3 1050.5 L487.4 1052.6 L488 1055 L488.2 1057.5 L487.9 1059.9 L487.2 1062.1 L485.9 1063.8 L484.4 1065.1 L482.6 1065.7M482 1045.5 L483.9 1045.5 L485.7 1046.1 L487.5 1047.4 L488.9 1049.1 L490.1 1051.3 L490.7 1053.7 L490.9 1056.2 L490.6 1058.6 L489.8 1060.7 L488.6 1062.5 L487.1 1063.7 L485.3 1064.4M484.7 1044.2 L486.5 1044.2 L488.4 1044.8 L490.2 1046 L491.6 1047.8 L492.7 1050 L493.4 1052.4 L493.6 1054.8 L493.3 1057.3 L492.5 1059.4 L491.3 1061.2 L489.8 1062.4 L488 1063.1" fill="none" stroke="#1e1c1d" stroke-width="0.7"/>
<path d="M462.4 1060.1 L462.5 1059.2 L462.6 1058.3 L462.8 1057.5 L463 1056.6 L463.3 1055.8 L463.6 1055.1 L464 1054.4 L464.5 1053.7 L465 1053.2 L465.5 1052.6 L466.1 1052.2 L466.7 1051.8 L474 1048.1 L474.6 1047.9 L475.3 1047.8 L476 1047.7 L476.7 1047.7 L477.4 1047.8 L478.1 1047.9 L478.8 1048.1 L479.5 1048.5 L480.1 1048.8 L480.8 1049.3 L481.4 1049.8 L482 1050.4 L482.5 1051.1 L483 1051.8 L483.4 1052.5 L483.9 1053.3 L484.2 1054.1 L484.5 1055 L484.8 1055.9 L485 1056.8 L485.1 1057.7 L485.2 1058.6 L485.2 1059.5 L485.1 1060.4 L485 1061.3 L484.8 1062.2 L484.6 1063 L484.3 1063.8 L484 1064.5 L483.6 1065.2 L483.1 1065.9 L482.6 1066.5 L482.1 1067 L481.6 1067.5 L480.9 1067.8 L474.2 1071.2 L473.6 1071.5 L473 1071.7 L472.3 1071.9 L471.6 1072 L470.9 1072 L470.2 1071.9 L469.5 1071.7 L468.8 1071.5 L468.1 1071.2 L467.5 1070.8 L466.9 1070.3 L466.2 1069.8 L465.7 1069.2 L465.1 1068.6 L464.6 1067.9 L464.2 1067.1 L463.8 1066.3 L463.4 1065.5 L463.1 1064.6 L462.9 1063.7 L462.7 1062.8 L462.5 1061.9 L462.5 1061Z" fill="#b0b0b0" stroke="#1e1c1d" stroke-width="1.1"/>
<ellipse cx="470.5" cy="1061.5" rx="7.9" ry="10.6" transform="rotate(-10 470.5 1061.5)" fill="#a0a0a0" stroke="#1e1c1d" stroke-width="1.3"/>
<ellipse cx="470.5" cy="1061.5" rx="4.3" ry="5.8" transform="rotate(-10 470.5 1061.5)" fill="#d0d0d0" stroke="#1e1c1d" stroke-width="1"/>
<path d="M386.4 1099.7 L386.4 1096.3 L386.7 1092.9 L387.1 1089.6 L387.8 1086.4 L388.6 1083.4 L389.6 1080.5 L390.7 1077.9 L392.1 1075.4 L393.5 1073.2 L395.1 1071.2 L396.9 1069.5 L398.8 1068.1 L400.7 1067 L402.8 1066.2 L417.8 1061.2 L419.9 1060.6 L422.1 1060.4 L424.3 1060.5 L426.5 1060.9 L428.7 1061.6 L430.9 1062.6 L433.1 1063.9 L435.3 1065.4 L437.4 1067.3 L439.4 1069.4 L441.3 1071.7 L443.1 1074.3 L444.8 1077 L446.3 1080 L447.7 1083.1 L448.9 1086.4 L450 1089.7 L450.9 1093.2 L451.6 1096.7 L452.1 1100.2 L452.5 1103.7 L452.6 1107.3 L452.6 1110.7 L452.3 1114.1 L451.9 1117.4 L451.2 1120.6 L450.4 1123.6 L449.4 1126.5 L448.3 1129.1 L446.9 1131.6 L445.5 1133.8 L443.9 1135.8 L442.1 1137.5 L440.2 1138.9 L438.3 1140 L436.2 1140.8 L421.2 1145.8 L419.1 1146.4 L416.9 1146.6 L414.7 1146.5 L412.5 1146.1 L410.3 1145.4 L408.1 1144.4 L405.9 1143.1 L403.7 1141.6 L401.6 1139.7 L399.6 1137.6 L397.7 1135.3 L395.9 1132.7 L394.2 1130 L392.7 1127 L391.3 1123.9 L390.1 1120.6 L389 1117.3 L388.1 1113.8 L387.4 1110.3 L386.9 1106.8 L386.5 1103.3Z" fill="#f4f4f4" stroke="#1e1c1d" stroke-width="1.4"/>
<path d="M411.8 1063.2 L414.5 1062.5 L417.2 1062.4 L420 1062.8 L422.9 1063.6 L425.7 1065 L428.4 1066.8 L431.1 1069 L433.6 1071.7 L436 1074.7 L438.2 1078.1 L440.2 1081.8 L442 1085.7 L443.5 1089.9 L444.7 1094.2 L445.6 1098.7 L446.3 1103.1 L446.6 1107.6 L446.6 1112 L446.3 1116.4 L445.7 1120.5 L444.8 1124.4 L443.6 1128.1 L442.1 1131.5 L440.4 1134.5 L438.4 1137.1 L436.2 1139.4 L433.9 1141.1 L431.3 1142.4 L428.7 1143.3 L425.9 1143.6" fill="none" stroke="#1e1c1d" stroke-width="0.9"/>
<path d="M395 1064 L421 1060 L429 1075 L400 1080Z" fill="#c4c4c4" stroke="#1e1c1d" stroke-width="0.8"/>
<path d="M407 1064 L420 1062" stroke="#1e1c1d" stroke-width="0.8"/>
<path d="M393.2 1068 L332.8 1093.4 Q318 1101 315.8 1125 Q315 1140 327.1 1150.1 Q340 1161 361.1 1165.2 L417.8 1142.6 Q421 1105 393.2 1068Z" fill="#fff" stroke="#1e1c1d" stroke-width="1.3" stroke-linejoin="round"/>
<path d="M396.2 1069.1 L398.5 1068.5 L400.9 1068.4 L403.3 1068.8 L405.8 1069.6 L408.2 1070.9 L410.6 1072.6 L412.9 1074.7 L415.2 1077.2 L417.3 1080 L419.3 1083.2 L421.1 1086.6 L422.7 1090.3 L424.2 1094.2 L425.4 1098.3 L426.3 1102.5 L427.1 1106.7 L427.5 1111 L427.7 1115.2 L427.7 1119.3 L427.4 1123.3 L426.8 1127.2 L426 1130.8 L424.9 1134.1 L423.6 1137.2 L422.1 1139.9 L420.4 1142.2 L418.5 1144.1 L416.4 1145.7 L414.2 1146.8 L411.9 1147.4" fill="none" stroke="#1e1c1d" stroke-width="1.1"/>
<path d="M383.8 1076.4 Q397 1100 397 1112.3 Q399 1130 395 1148" fill="none" stroke="#1e1c1d" stroke-width="0.8"/>
<path d="M346 1096.3 Q362 1104 366.8 1112.3 Q377 1130 376.2 1135 Q376 1148 370.6 1157.7" fill="none" stroke="#1e1c1d" stroke-width="0.9"/>
<path d="M391.3 1089.7 L397 1100 M406.4 1116.1 L409.3 1125.6 M414 1142.6 L415.9 1152" stroke="#1e1c1d" stroke-width="2.6"/>
<path d="M364.9 1121.8 L383.8 1116.1" stroke="#1e1c1d" stroke-width="7.5" stroke-linecap="round"/>
<path d="M364.9 1121.8 L383.8 1116.1" stroke="#fff" stroke-width="5.2" stroke-linecap="round"/>
<circle cx="383" cy="1116.5" r="2.2" fill="#1e1c1d"/>
<circle cx="356.4" cy="1164.3" r="3" fill="none" stroke="#1e1c1d" stroke-width="0.9"/>
<path d="M298.2 1120.2 L298.2 1119.2 L298.3 1118.3 L298.5 1117.3 L298.7 1116.4 L299 1115.6 L299.3 1114.8 L299.7 1114 L300.1 1113.3 L300.6 1112.7 L301.2 1112.1 L301.7 1111.6 L302.3 1111.2 L303 1110.9 L303.6 1110.6 L326.3 1102.8 L327 1102.7 L327.7 1102.6 L328.4 1102.6 L329.1 1102.7 L329.8 1102.9 L330.5 1103.2 L331.2 1103.5 L331.9 1103.9 L332.5 1104.4 L333.2 1105 L333.8 1105.7 L334.3 1106.4 L334.8 1107.1 L335.3 1108 L335.7 1108.8 L336.1 1109.7 L336.4 1110.7 L336.7 1111.6 L336.9 1112.6 L337 1113.6 L337.1 1114.6 L337.1 1115.6 L337.1 1116.6 L337 1117.5 L336.8 1118.5 L336.6 1119.4 L336.3 1120.2 L336 1121 L335.6 1121.8 L335.1 1122.5 L334.7 1123.1 L334.1 1123.7 L333.6 1124.2 L333 1124.6 L332.3 1124.9 L331.7 1125.2 L309 1133 L308.3 1133.1 L307.6 1133.2 L306.9 1133.2 L306.2 1133.1 L305.5 1132.9 L304.8 1132.7 L304.1 1132.3 L303.4 1131.9 L302.8 1131.4 L302.1 1130.8 L301.6 1130.1 L301 1129.4 L300.5 1128.7 L300 1127.8 L299.6 1127 L299.2 1126.1 L298.9 1125.1 L298.6 1124.2 L298.4 1123.2 L298.3 1122.2 L298.2 1121.2Z" fill="#fff" stroke="#1e1c1d" stroke-width="1.2"/>
<path d="M311.1 1108.1 L313.2 1108.2 L315.3 1109 L317.3 1110.5 L318.9 1112.6 L320.2 1115.2 L321 1118.1 L321.2 1121 L320.9 1123.9 L320.1 1126.5 L318.8 1128.6 L317.1 1130 L315.1 1130.8" fill="none" stroke="#1e1c1d" stroke-width="1.4"/>
<path d="M314.5 1107 L316.6 1107 L318.7 1107.8 L320.7 1109.3 L322.3 1111.4 L323.6 1114 L324.4 1116.9 L324.6 1119.9 L324.3 1122.7 L323.5 1125.3 L322.2 1127.4 L320.5 1128.9 L318.5 1129.6" fill="none" stroke="#1e1c1d" stroke-width="1.4"/>
<path d="M317.9 1105.8 L320 1105.8 L322.1 1106.6 L324.1 1108.1 L325.7 1110.3 L327 1112.8 L327.8 1115.7 L328 1118.7 L327.7 1121.6 L326.9 1124.1 L325.6 1126.2 L323.9 1127.7 L321.9 1128.4" fill="none" stroke="#1e1c1d" stroke-width="0.8"/>
<path d="M321.3 1104.6 L323.4 1104.7 L325.5 1105.4 L327.5 1107 L329.1 1109.1 L330.4 1111.7 L331.2 1114.6 L331.5 1117.5 L331.1 1120.4 L330.3 1123 L329 1125.1 L327.3 1126.5 L325.3 1127.3" fill="none" stroke="#1e1c1d" stroke-width="0.8"/>
<ellipse cx="306.3" cy="1121.8" rx="8" ry="11.5" transform="rotate(-10 306.3 1121.8)" fill="#fff" stroke="#1e1c1d" stroke-width="1.3"/>
<ellipse cx="306.3" cy="1121.8" rx="5" ry="7.5" transform="rotate(-10 306.3 1121.8)" fill="#fff" stroke="#1e1c1d" stroke-width="1"/>
<path d="M304 1116 V1128 M308 1115 V1127" stroke="#1e1c1d" stroke-width="0.6"/>
<path d="M430 1078.8Q443 1095 445.14 1122.49" fill="none" stroke="#fff" stroke-width="11"/>
<path d="M446.1 1133.1L438.03 1121.63L451.97 1120.37Z" fill="#fff" stroke="#fff" stroke-width="2.2" stroke-linejoin="round"/>
<path d="M430 1078.8Q443 1095 445.14 1122.49" fill="none" stroke="#1e1c1d" stroke-width="9"/>
<path d="M446.1 1133.1L438.03 1121.63L451.97 1120.37Z" fill="#1e1c1d"/>
<path transform="translate(442,1079) rotate(-28.17)" d="M0 -3.25H12.69V-10.5L30.29 0L12.69 10.5V3.25H0Z" fill="#1e1c1d" stroke="#fff" stroke-width="1.2" paint-order="stroke"/>
<path d="M348.7 1057L357.6 1061.9M329.1 1054.3L336.5 1055.2M318.4 1058.3L313.8 1063M307.8 1072.2L305.6 1079" fill="none" stroke="#1e1c1d" stroke-width="4.8"/><path d="M301.1 1093.4L295.8 1077.6L312.6 1081.6Z" fill="#1e1c1d"/>
<path d="M415.2 1143.6L416.6 1153.3M416.1 1167.6L414.3 1177.3M409 1188L405.4 1193.3M394.8 1198.7L388.6 1199.6M376.1 1199.6L368.5 1197.6" fill="none" stroke="#1e1c1d" stroke-width="4.8"/><path d="M353.9 1194.7L368.6 1187.6L368.6 1203.4Z" fill="#1e1c1d"/>
<path d="M439.15 1156.6V1149.75A7.55 7.55 0 0 1 454.25 1149.75V1156.6Z" fill="#fff" stroke="#1e1c1d" stroke-width="2.09"/>
<rect x="436.55" y="1156.55" width="20.3" height="14.7" fill="#fff" stroke="#1e1c1d" stroke-width="1.9"/>
<circle cx="446.7" cy="1162.57" r="1.66" fill="#1e1c1d"/><path d="M445.92 1162.57L444.7 1167.55H448.7L447.48 1162.57Z" fill="#1e1c1d"/>
<circle cx="378.9" cy="1066.7" r="10.7" fill="#1e1c1d" stroke="#fff" stroke-width="0.8"/>
<circle cx="446.2" cy="1054.4" r="10.7" fill="#1e1c1d" stroke="#fff" stroke-width="0.8"/>
<circle cx="454.4" cy="1100" r="10.7" fill="#1e1c1d" stroke="#fff" stroke-width="0.8"/>
<path d="M188.69 1201.64A25.5 25.5 0 0 1 188.69 1164.96" fill="none" stroke="#1e1c1d" stroke-width="4.4" stroke-linecap="round"/>
<path d="M193.79 1160.56L190.52 1172.41L182.35 1165.05Z" fill="#1e1c1d"/>
<path d="M222.79 1163.77A25.5 25.5 0 0 1 224.74 1201.01" fill="none" stroke="#1e1c1d" stroke-width="4.4" stroke-linecap="round"/>
<path d="M218.61 1206.26L221.88 1194.4L230.05 1201.76Z" fill="#1e1c1d"/>
<circle cx="206.4" cy="1183.3" r="9.7" fill="#1e1c1d"/>
</g>
</svg>
</body></html>
